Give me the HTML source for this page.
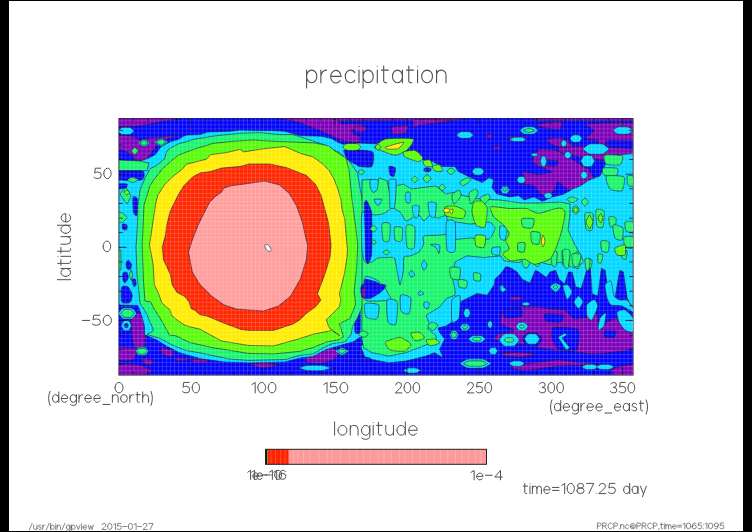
<!DOCTYPE html>
<html><head><meta charset="utf-8">
<style>
html,body{margin:0;padding:0;background:#000;}
body{width:752px;height:532px;overflow:hidden;position:relative;}
#pg{position:absolute;left:9px;top:1px;width:734px;height:530px;background:#fff;}
svg{position:absolute;left:0;top:0;}
.tx path{vector-effect:non-scaling-stroke;}
</style></head><body>
<div id="pg"></div>
<svg width="752" height="532" viewBox="0 0 752 532">
<defs>
<clipPath id="pc"><rect x="119" y="118" width="514" height="257"/></clipPath>
<pattern id="grid" x="119" y="118" width="4.05" height="4.03" patternUnits="userSpaceOnUse">
<rect x="2.4" y="0" width="0.9" height="4.03" fill="#fff" fill-opacity="0.17"/>
<rect x="0" y="2.4" width="4.05" height="0.9" fill="#fff" fill-opacity="0.17"/>
</pattern>
</defs>
<g clip-path="url(#pc)">
<rect x="119" y="118" width="514" height="257" fill="#0204f8"/>
<path d="M119.0,118.0C124.2,117.3 178.2,117.8 182.0,118.0C185.8,118.2 167.7,120.5 165.0,121.0C162.3,121.5 152.2,123.6 150.0,124.0C147.8,124.4 141.3,125.8 138.7,126.0C136.1,126.2 120.6,127.2 119.0,126.5C117.4,125.8 113.8,118.7 119.0,118.0Z" fill="#7c00b8" stroke="#10103a" stroke-opacity="0.75" stroke-width="0.8"/>
<path d="M119.0,135.8C120.1,134.6 130.4,136.1 132.2,136.4C134.0,136.7 138.6,139.6 140.1,139.7C141.6,139.8 148.7,137.9 150.6,137.7C152.5,137.5 160.3,137.3 162.4,137.1C164.5,136.9 174.4,135.3 175.6,135.1C176.8,134.9 178.4,133.7 177.0,134.4C175.6,135.1 160.6,142.2 158.5,143.7C156.4,145.2 153.0,150.8 151.9,152.2C150.8,153.6 146.7,159.4 145.3,160.1C143.9,160.8 135.8,160.4 134.8,160.1C133.8,159.8 134.6,157.1 133.5,156.2C132.4,155.3 122.8,150.0 121.6,149.6C120.4,149.2 119.2,152.1 119.0,150.9C118.8,149.8 117.9,137.0 119.0,135.8Z" fill="#7c00b8" stroke="#10103a" stroke-opacity="0.75" stroke-width="0.8"/>
<path d="M283.2,118.0C289.9,117.6 371.9,117.8 380.0,118.0C388.1,118.2 383.3,120.0 380.0,120.2C376.7,120.4 343.4,120.6 340.2,120.9C337.0,121.2 340.0,123.7 341.7,123.9C343.4,124.2 358.6,123.4 360.7,123.9C362.8,124.4 367.2,129.2 366.5,129.7C365.8,130.2 353.0,129.3 351.9,129.7C350.8,130.1 352.7,133.5 353.4,134.1C354.1,134.7 360.2,136.3 360.7,137.0C361.2,137.7 359.9,141.7 359.2,142.1C358.5,142.5 353.5,142.3 351.9,142.1C350.3,141.9 342.1,140.7 340.2,140.0C338.2,139.3 330.7,135.1 328.5,134.1C326.3,133.1 316.3,129.2 313.9,128.2C311.5,127.2 301.9,123.2 299.3,122.4C296.7,121.6 276.5,118.4 283.2,118.0Z" fill="#7c00b8" stroke="#10103a" stroke-opacity="0.75" stroke-width="0.8"/>
<path d="M340.0,118.0C349.6,117.8 445.4,117.8 455.0,118.0C464.6,118.2 464.6,119.8 455.0,120.0C445.4,120.2 349.6,120.7 340.0,120.5C330.4,120.3 330.4,118.2 340.0,118.0Z" fill="#7c00b8" stroke="#10103a" stroke-opacity="0.75" stroke-width="0.8"/>
<path d="M540.0,118.0C547.8,117.8 625.2,117.8 633.0,118.0C640.8,118.2 640.8,120.3 633.0,120.5C625.2,120.7 547.8,120.6 540.0,120.4C532.2,120.2 532.2,118.2 540.0,118.0Z" fill="#7c00b8" stroke="#10103a" stroke-opacity="0.75" stroke-width="0.8"/>
<path d="M414.8,119.6C417.9,119.0 451.6,120.5 452.0,121.0C452.4,121.5 423.1,124.4 420.0,125.0C416.9,125.6 415.2,128.2 414.8,127.7C414.4,127.2 411.7,120.2 414.8,119.6Z" fill="#7c00b8" stroke="#10103a" stroke-opacity="0.75" stroke-width="0.8"/>
<path d="M392.0,127.0C393.2,126.3 406.9,125.5 408.0,126.0C409.1,126.5 406.2,132.3 405.0,133.0C403.8,133.7 394.1,134.5 393.0,134.0C391.9,133.5 390.8,127.7 392.0,127.0Z" fill="#7c00b8" stroke="#10103a" stroke-opacity="0.75" stroke-width="0.8"/>
<path d="M355.0,126.0C355.9,125.6 365.6,126.5 366.3,127.0C367.1,127.5 364.9,131.3 364.0,131.7C363.1,132.1 355.8,132.2 355.0,131.7C354.2,131.2 354.1,126.4 355.0,126.0Z" fill="#7c00b8" stroke="#10103a" stroke-opacity="0.75" stroke-width="0.8"/>
<path d="M587.0,124.0C590.2,123.4 629.2,121.6 633.0,123.0C636.8,124.4 635.1,138.9 633.0,140.3C630.9,141.7 609.9,139.8 607.6,140.3C605.3,140.8 605.8,145.5 605.0,146.0C604.2,146.5 598.6,146.5 598.0,146.0C597.4,145.5 599.0,140.9 598.0,140.3C597.0,139.7 586.3,139.2 586.0,138.4C585.7,137.6 593.9,131.8 594.0,130.6C594.1,129.4 583.8,124.6 587.0,124.0Z" fill="#7c00b8" stroke="#10103a" stroke-opacity="0.75" stroke-width="0.8"/>
<path d="M541.0,149.1C542.9,148.8 554.1,149.8 556.5,150.5C558.9,151.2 567.2,156.4 569.2,157.6C571.2,158.8 578.9,163.5 580.5,164.6C582.1,165.7 587.8,169.0 589.0,170.3C590.2,171.6 594.8,178.9 594.6,180.1C594.4,181.3 587.6,183.5 586.2,184.4C584.8,185.3 579.4,191.1 577.7,191.4C576.1,191.8 568.0,189.4 566.4,188.6C564.8,187.8 558.9,181.5 558.0,181.5C557.1,181.5 555.8,187.4 555.1,188.6C554.4,189.8 550.7,195.1 549.5,195.6C548.3,196.1 542.3,195.0 541.0,194.2C539.7,193.4 535.9,186.7 534.0,185.8C532.1,184.9 519.3,183.7 518.5,183.0C517.7,182.3 523.8,178.2 524.1,177.3C524.5,176.4 521.5,171.9 522.7,171.7C523.9,171.5 535.7,174.5 538.2,174.5C540.7,174.5 552.3,172.4 552.3,171.7C552.3,171.0 539.8,166.8 538.2,166.0C536.6,165.2 533.0,162.7 532.6,161.8C532.2,160.9 533.3,155.8 534.0,154.7C534.7,153.6 539.1,149.4 541.0,149.1Z" fill="#7c00b8" stroke="#10103a" stroke-opacity="0.75" stroke-width="0.8"/>
<path d="M560.0,147.0C562.5,146.5 583.9,146.3 590.0,146.5C596.1,146.7 629.4,147.9 633.0,149.0C636.6,150.1 635.8,159.1 633.0,160.0C630.2,160.9 604.8,160.3 600.0,160.0C595.2,159.7 578.3,156.7 575.0,156.0C571.7,155.3 561.2,152.8 560.0,152.0C558.8,151.2 557.5,147.5 560.0,147.0Z" fill="#7c00b8" stroke="#10103a" stroke-opacity="0.75" stroke-width="0.8"/>
<path d="M547.0,139.0C547.8,138.5 558.4,137.3 560.0,137.4C561.6,137.5 565.8,139.5 566.8,140.3C567.8,141.1 573.2,146.4 572.6,147.0C572.0,147.6 561.9,147.3 560.0,147.0C558.1,146.7 551.1,144.2 550.0,143.5C548.9,142.8 546.2,139.5 547.0,139.0Z" fill="#7c00b8" stroke="#10103a" stroke-opacity="0.75" stroke-width="0.8"/>
<path d="M536.0,125.0C536.2,124.5 545.8,122.8 548.0,122.5C550.2,122.2 561.0,121.4 562.0,122.0C563.0,122.6 561.4,128.7 560.0,129.2C558.6,129.7 547.0,128.3 545.0,128.0C543.0,127.7 535.8,125.5 536.0,125.0Z" fill="#7c00b8" stroke="#10103a" stroke-opacity="0.75" stroke-width="0.8"/>
<path d="M486.3,135.0C486.6,134.6 492.5,133.7 492.7,134.0C492.9,134.3 489.5,138.7 489.0,138.8C488.5,138.9 486.0,135.4 486.3,135.0Z" fill="#7c00b8" stroke="#10103a" stroke-opacity="0.75" stroke-width="0.8"/>
<path d="M492.7,147.0C493.4,146.8 501.9,146.3 502.3,146.5C502.7,146.7 498.7,149.0 498.0,149.2C497.3,149.4 494.4,149.2 494.0,149.0C493.6,148.8 492.0,147.2 492.7,147.0Z" fill="#7c00b8" stroke="#10103a" stroke-opacity="0.75" stroke-width="0.8"/>
<path d="M510.0,137.0C511.2,136.7 523.8,136.7 525.0,137.0C526.2,137.3 525.2,140.7 524.0,141.0C522.8,141.3 511.2,141.3 510.0,141.0C508.8,140.7 508.8,137.3 510.0,137.0Z" fill="#7c00b8" stroke="#10103a" stroke-opacity="0.75" stroke-width="0.8"/>
<path d="M131.0,316.6C132.1,314.4 144.5,310.6 145.6,313.4C146.7,316.2 145.2,346.9 144.5,350.3C143.8,353.7 138.3,354.7 137.3,353.8C136.3,352.9 133.1,343.1 132.6,340.0C132.1,336.9 129.9,318.8 131.0,316.6Z" fill="#7c00b8" stroke="#10103a" stroke-opacity="0.75" stroke-width="0.8"/>
<path d="M119.0,347.6C120.5,346.7 136.1,348.0 137.3,349.0C138.5,350.0 134.5,359.1 133.0,360.0C131.5,360.9 120.2,361.0 119.0,360.0C117.8,359.0 117.5,348.5 119.0,347.6Z" fill="#7c00b8" stroke="#10103a" stroke-opacity="0.75" stroke-width="0.8"/>
<path d="M119.0,364.2C120.8,363.4 137.3,364.4 140.0,365.0C142.7,365.6 151.4,370.2 151.8,371.0C152.2,371.8 147.7,374.2 145.0,374.5C142.3,374.8 121.2,375.4 119.0,374.5C116.8,373.6 117.2,365.0 119.0,364.2Z" fill="#7c00b8" stroke="#10103a" stroke-opacity="0.75" stroke-width="0.8"/>
<path d="M143.2,358.2C144.0,358.0 153.1,360.4 153.7,361.0C154.3,361.6 150.8,364.8 150.0,365.0C149.2,365.2 144.1,363.6 143.5,363.0C142.9,362.4 142.3,358.4 143.2,358.2Z" fill="#7c00b8" stroke="#10103a" stroke-opacity="0.75" stroke-width="0.8"/>
<path d="M161.6,347.6C162.5,347.4 172.5,350.2 173.4,351.0C174.3,351.8 172.9,356.6 172.0,356.8C171.1,357.1 162.9,354.8 162.0,354.0C161.1,353.2 160.7,347.9 161.6,347.6Z" fill="#7c00b8" stroke="#10103a" stroke-opacity="0.75" stroke-width="0.8"/>
<path d="M176.0,358.2C177.0,358.1 187.1,358.8 187.9,359.0C188.7,359.2 187.0,360.7 186.0,360.8C185.0,360.9 176.8,361.0 176.0,360.8C175.2,360.6 175.0,358.3 176.0,358.2Z" fill="#7c00b8" stroke="#10103a" stroke-opacity="0.75" stroke-width="0.8"/>
<path d="M306.6,357.0C307.7,356.0 318.0,350.8 320.0,350.0C322.0,349.2 329.4,347.2 331.0,347.4C332.6,347.6 339.3,350.9 339.5,352.0C339.7,353.1 334.6,359.1 333.0,360.0C331.4,360.9 322.2,363.0 320.0,363.2C317.8,363.4 307.7,362.5 306.6,362.0C305.5,361.5 305.5,358.0 306.6,357.0Z" fill="#7c00b8" stroke="#10103a" stroke-opacity="0.75" stroke-width="0.8"/>
<path d="M250.5,364.0C250.8,363.6 262.7,362.8 265.0,362.9C267.3,363.0 278.2,364.6 278.0,365.0C277.8,365.4 264.3,368.1 262.0,368.0C259.7,367.9 250.2,364.4 250.5,364.0Z" fill="#7c00b8" stroke="#10103a" stroke-opacity="0.75" stroke-width="0.8"/>
<path d="M190.0,360.0C190.8,359.7 203.5,358.8 205.0,359.0C206.5,359.2 208.8,361.7 208.0,362.0C207.2,362.3 196.5,363.2 195.0,363.0C193.5,362.8 189.2,360.3 190.0,360.0Z" fill="#7c00b8" stroke="#10103a" stroke-opacity="0.75" stroke-width="0.8"/>
<path d="M504.1,310.4C505.8,309.4 518.2,307.3 521.0,307.0C523.8,306.7 535.6,306.9 538.0,307.0C540.4,307.1 547.7,308.4 550.0,308.7C552.3,309.0 563.4,309.6 565.4,310.4C567.4,311.2 571.8,318.2 573.8,318.8C575.8,319.4 587.0,317.5 589.0,317.1C591.0,316.7 596.6,313.1 597.5,313.8C598.4,314.5 597.8,325.2 599.2,325.6C600.6,326.0 611.6,319.1 614.4,318.8C617.2,318.5 631.5,319.8 633.0,322.2C634.5,324.6 634.5,345.2 633.0,347.7C631.5,350.2 618.2,351.5 615.0,352.0C611.8,352.5 598.3,354.0 595.0,354.0C591.7,354.0 577.9,352.3 575.0,352.0C572.1,351.7 562.5,350.9 560.0,350.6C557.5,350.4 547.1,349.3 545.0,349.0C542.9,348.7 537.0,347.4 535.0,347.0C533.0,346.6 523.4,344.6 521.0,344.2C518.6,343.8 508.1,342.9 505.8,342.5C503.6,342.1 494.6,339.8 494.0,339.1C493.4,338.4 497.3,334.8 499.0,334.1C500.7,333.4 514.1,331.6 514.3,330.7C514.4,329.8 501.9,324.9 500.8,323.9C499.7,322.9 500.5,319.9 500.8,318.8C501.1,317.7 502.4,311.4 504.1,310.4Z" fill="#7c00b8" stroke="#10103a" stroke-opacity="0.75" stroke-width="0.8"/>
<path d="M510.9,296.8C511.7,296.6 520.2,296.7 521.0,297.0C521.8,297.3 520.8,299.9 520.0,300.2C519.2,300.4 511.8,300.3 511.0,300.0C510.2,299.7 510.1,297.1 510.9,296.8Z" fill="#7c00b8" stroke="#10103a" stroke-opacity="0.75" stroke-width="0.8"/>
<path d="M504.0,352.7C506.6,352.5 532.4,353.7 534.6,354.0C536.8,354.3 532.5,355.8 530.0,356.0C527.5,356.2 506.2,356.3 504.0,356.0C501.8,355.7 501.4,352.9 504.0,352.7Z" fill="#7c00b8" stroke="#10103a" stroke-opacity="0.75" stroke-width="0.8"/>
<path d="M512.3,366.5C514.0,365.9 531.0,363.2 534.9,362.6C538.8,362.1 554.9,359.9 558.8,359.9C562.7,359.9 578.4,362.3 581.4,362.6C584.4,362.9 593.0,363.6 595.0,363.9C597.0,364.2 605.0,365.7 605.0,366.0C605.0,366.3 597.0,368.0 595.0,367.9C593.0,367.8 584.8,365.3 581.4,365.2C578.0,365.1 559.2,366.1 554.8,366.5C550.4,366.9 531.5,370.3 528.2,370.5C524.9,370.7 516.3,369.5 515.0,369.2C513.7,368.9 510.6,367.1 512.3,366.5Z" fill="#7c00b8" stroke="#10103a" stroke-opacity="0.75" stroke-width="0.8"/>
<path d="M504.3,353.3C505.5,353.0 517.4,352.1 520.0,352.2C522.6,352.3 534.8,353.6 535.0,354.0C535.2,354.4 524.4,356.8 522.0,357.0C519.6,357.2 507.5,356.3 506.0,356.0C504.5,355.7 503.1,353.6 504.3,353.3Z" fill="#7c00b8" stroke="#10103a" stroke-opacity="0.75" stroke-width="0.8"/>
<path d="M612.0,369.0C613.5,368.1 631.2,363.5 633.0,364.0C634.8,364.5 634.5,374.1 633.0,375.0C631.5,375.9 616.8,375.5 615.0,375.0C613.2,374.5 610.5,369.9 612.0,369.0Z" fill="#7c00b8" stroke="#10103a" stroke-opacity="0.75" stroke-width="0.8"/>
<path d="M504.1,310.4C505.4,309.6 519.5,307.5 521.0,308.0C522.5,308.5 523.3,315.2 522.0,316.0C520.7,316.8 506.5,318.5 505.0,318.0C503.5,317.5 502.8,311.2 504.1,310.4Z" fill="#0204f8" stroke="#10103a" stroke-opacity="0.75" stroke-width="0.8"/>
<path d="M545.0,313.8C546.5,313.3 562.5,314.3 563.7,315.0C565.0,315.7 561.5,321.7 560.0,322.2C558.5,322.7 547.2,321.7 546.0,321.0C544.8,320.3 543.5,314.3 545.0,313.8Z" fill="#0204f8" stroke="#10103a" stroke-opacity="0.75" stroke-width="0.8"/>
<path d="M553.5,327.3C555.8,326.6 577.1,328.0 579.0,330.0C580.9,332.0 577.8,349.4 576.0,351.0C574.2,352.6 560.0,350.1 558.0,349.0C556.0,347.9 552.4,339.8 552.0,338.0C551.6,336.2 551.2,328.0 553.5,327.3Z" fill="#0204f8" stroke="#10103a" stroke-opacity="0.75" stroke-width="0.8"/>
<path d="M604.3,330.7C605.2,330.2 615.2,330.4 616.0,331.0C616.8,331.6 614.9,337.0 614.0,337.5C613.1,338.0 605.8,337.6 605.0,337.0C604.2,336.4 603.4,331.2 604.3,330.7Z" fill="#0204f8" stroke="#10103a" stroke-opacity="0.75" stroke-width="0.8"/>
<path d="M542.4,160.4C543.6,160.0 556.9,160.5 558.0,161.0C559.1,161.5 557.2,165.6 556.0,166.0C554.8,166.4 544.1,166.0 543.0,165.5C541.9,165.0 541.1,160.8 542.4,160.4Z" fill="#0204f8" stroke="#10103a" stroke-opacity="0.75" stroke-width="0.8"/>
<path d="M522.0,339.0C522.0,338.1 526.0,333.4 527.0,333.0C528.0,332.6 536.0,332.6 537.0,333.0C538.0,333.4 542.0,338.1 542.0,339.0C542.0,339.9 538.0,346.5 537.0,347.0C536.0,347.5 528.0,347.5 527.0,347.0C526.0,346.5 522.0,339.9 522.0,339.0Z" fill="#0204f8" stroke="#10103a" stroke-opacity="0.75" stroke-width="0.8"/>
<path d="M119.0,160.0 L135.0,163.0 L150.0,157.6 L155.6,154.2 L161.3,146.3 L170.3,141.8 L178.2,139.5 L183.8,136.1 L187.2,135.0 L200.0,134.6 L208.0,132.0 L230.0,131.3 L240.0,130.0 L259.8,130.6 L270.0,130.4 L284.6,131.2 L299.3,135.6 L321.2,136.3 L331.4,138.5 L337.3,142.1 L343.1,144.3 L358.2,143.0 L376.0,143.8 L385.7,139.8 L408.3,139.0 L413.2,143.8 L406.7,150.3 L419.6,152.7 L422.9,160.0 L432.5,161.6 L442.2,166.5 L455.0,166.5 L458.0,171.3 L471.0,177.8 L482.3,182.6 L488.8,177.8 L493.6,179.4 L492.0,187.5 L496.8,193.9 L510.0,197.0 L518.5,195.6 L524.1,199.9 L534.0,197.0 L542.4,201.3 L552.3,197.0 L563.6,194.2 L573.5,188.6 L580.5,185.8 L589.0,180.1 L600.0,175.9 L607.9,158.4 L616.0,155.2 L633.0,153.6 L633.0,310.6 L627.1,297.7 L623.4,272.0 L619.8,270.2 L614.3,301.4 L608.8,295.9 L605.1,270.2 L601.4,268.3 L597.8,295.9 L592.2,294.0 L590.4,268.3 L586.7,270.2 L581.2,288.5 L575.7,286.7 L572.1,272.0 L568.4,272.0 L564.7,283.9 L559.2,279.4 L555.6,270.2 L550.0,272.0 L546.4,277.5 L539.0,272.0 L535.4,270.2 L529.9,283.0 L522.5,279.4 L517.0,272.0 L511.5,268.3 L506.0,266.5 L500.5,273.9 L495.0,279.0 L494.0,285.0 L487.2,295.2 L477.0,293.5 L467.0,298.5 L460.2,301.9 L456.0,310.0 L452.0,322.0 L446.0,326.0 L438.0,328.0 L439.6,332.4 L444.7,339.1 L439.6,349.3 L443.0,357.8 L434.5,352.7 L426.0,356.1 L405.8,361.1 L388.8,362.8 L372.0,359.5 L365.0,357.0 L360.0,345.0 L356.0,341.0 L340.0,345.5 L325.0,350.0 L313.0,356.5 L300.0,358.0 L285.0,362.0 L249.0,362.8 L224.1,362.0 L200.0,358.5 L180.0,352.9 L166.8,346.3 L156.3,339.7 L144.5,334.5 L144.5,326.6 L141.8,316.1 L137.9,305.5 L119.0,305.0Z" fill="#00d8ff" stroke="#10103a" stroke-opacity="0.75" stroke-width="0.8"/>
<path d="M118.0,131.0C118.0,130.5 121.2,127.7 122.0,127.5C122.8,127.3 129.2,127.3 130.0,127.5C130.8,127.7 134.0,130.5 134.0,131.0C134.0,131.5 130.8,134.3 130.0,134.5C129.2,134.7 122.8,134.7 122.0,134.5C121.2,134.3 118.0,131.5 118.0,131.0Z" fill="#00d8ff" stroke="#10103a" stroke-opacity="0.75" stroke-width="0.8"/>
<path d="M456.5,135.0C456.5,134.6 459.9,132.0 460.8,131.8C461.6,131.6 468.4,131.6 469.2,131.8C470.1,132.0 473.5,134.6 473.5,135.0C473.5,135.4 470.1,138.0 469.2,138.2C468.4,138.4 461.6,138.4 460.8,138.2C459.9,138.0 456.5,135.4 456.5,135.0Z" fill="#00d8ff" stroke="#10103a" stroke-opacity="0.75" stroke-width="0.8"/>
<path d="M510.0,139.4C510.0,139.1 513.2,137.3 514.0,137.2C514.8,137.1 521.2,137.1 522.0,137.2C522.8,137.3 526.0,139.1 526.0,139.4C526.0,139.7 522.8,141.5 522.0,141.6C521.2,141.7 514.8,141.7 514.0,141.6C513.2,141.5 510.0,139.7 510.0,139.4Z" fill="#00d8ff" stroke="#10103a" stroke-opacity="0.75" stroke-width="0.8"/>
<path d="M520.0,130.5C520.0,130.0 523.6,127.1 524.5,126.9C525.4,126.7 532.6,126.7 533.5,126.9C534.4,127.1 538.0,130.0 538.0,130.5C538.0,131.0 534.4,133.9 533.5,134.1C532.6,134.3 525.4,134.3 524.5,134.1C523.6,133.9 520.0,131.0 520.0,130.5Z" fill="#00d8ff" stroke="#10103a" stroke-opacity="0.75" stroke-width="0.8"/>
<path d="M570.0,138.6C570.0,138.1 572.4,135.2 573.0,135.0C573.6,134.8 578.4,134.8 579.0,135.0C579.6,135.2 582.0,138.1 582.0,138.6C582.0,139.1 579.6,142.0 579.0,142.2C578.4,142.4 573.6,142.4 573.0,142.2C572.4,142.0 570.0,139.1 570.0,138.6Z" fill="#00d8ff" stroke="#10103a" stroke-opacity="0.75" stroke-width="0.8"/>
<path d="M583.0,149.0C583.0,148.3 588.2,144.3 589.5,144.0C590.8,143.7 601.2,143.7 602.5,144.0C603.8,144.3 609.0,148.3 609.0,149.0C609.0,149.7 603.8,153.7 602.5,154.0C601.2,154.3 590.8,154.3 589.5,154.0C588.2,153.7 583.0,149.7 583.0,149.0Z" fill="#00d8ff" stroke="#10103a" stroke-opacity="0.75" stroke-width="0.8"/>
<path d="M613.0,130.5C613.0,130.0 617.0,127.1 618.0,126.9C619.0,126.7 627.0,126.7 628.0,126.9C629.0,127.1 633.0,130.0 633.0,130.5C633.0,131.0 629.0,133.9 628.0,134.1C627.0,134.3 619.0,134.3 618.0,134.1C617.0,133.9 613.0,131.0 613.0,130.5Z" fill="#00d8ff" stroke="#10103a" stroke-opacity="0.75" stroke-width="0.8"/>
<path d="M560.8,143.5C560.8,143.1 562.0,140.7 562.3,140.5C562.6,140.3 565.0,140.3 565.3,140.5C565.6,140.7 566.8,143.1 566.8,143.5C566.8,143.9 565.6,146.3 565.3,146.5C565.0,146.7 562.6,146.7 562.3,146.5C562.0,146.3 560.8,143.9 560.8,143.5Z" fill="#00d8ff" stroke="#10103a" stroke-opacity="0.75" stroke-width="0.8"/>
<path d="M531.0,154.7C531.0,154.5 532.4,153.3 532.8,153.2C533.1,153.1 535.9,153.1 536.2,153.2C536.6,153.3 538.0,154.5 538.0,154.7C538.0,154.9 536.6,156.1 536.2,156.2C535.9,156.3 533.1,156.3 532.8,156.2C532.4,156.1 531.0,154.9 531.0,154.7Z" fill="#00d8ff" stroke="#10103a" stroke-opacity="0.75" stroke-width="0.8"/>
<path d="M540.3,161.2C540.3,160.5 541.6,156.5 541.9,156.2C542.2,155.9 544.8,155.9 545.1,156.2C545.4,156.5 546.7,160.5 546.7,161.2C546.7,161.9 545.4,165.9 545.1,166.2C544.8,166.5 542.2,166.5 541.9,166.2C541.6,165.9 540.3,161.9 540.3,161.2Z" fill="#00d8ff" stroke="#10103a" stroke-opacity="0.75" stroke-width="0.8"/>
<path d="M564.3,155.1C564.3,154.7 565.7,152.1 566.0,151.9C566.4,151.7 569.2,151.7 569.5,151.9C569.9,152.1 571.3,154.7 571.3,155.1C571.3,155.5 569.9,158.1 569.5,158.3C569.2,158.5 566.4,158.5 566.0,158.3C565.7,158.1 564.3,155.5 564.3,155.1Z" fill="#00d8ff" stroke="#10103a" stroke-opacity="0.75" stroke-width="0.8"/>
<path d="M580.5,175.2C580.5,174.7 581.9,171.9 582.2,171.7C582.6,171.5 585.4,171.5 585.8,171.7C586.1,171.9 587.5,174.7 587.5,175.2C587.5,175.7 586.1,178.5 585.8,178.7C585.4,178.9 582.6,178.9 582.2,178.7C581.9,178.5 580.5,175.7 580.5,175.2Z" fill="#00d8ff" stroke="#10103a" stroke-opacity="0.75" stroke-width="0.8"/>
<path d="M580.7,161.0C580.7,160.3 583.5,155.9 584.2,155.5C584.9,155.1 590.5,155.1 591.2,155.5C591.9,155.9 594.7,160.3 594.7,161.0C594.7,161.7 591.9,166.1 591.2,166.5C590.5,166.9 584.9,166.9 584.2,166.5C583.5,166.1 580.7,161.7 580.7,161.0Z" fill="#00d8ff" stroke="#10103a" stroke-opacity="0.75" stroke-width="0.8"/>
<path d="M516.9,179.8C516.9,179.4 518.6,176.8 519.1,176.6C519.5,176.4 522.9,176.4 523.4,176.6C523.8,176.8 525.5,179.4 525.5,179.8C525.5,180.2 523.8,182.8 523.4,183.0C522.9,183.2 519.5,183.2 519.1,183.0C518.6,182.8 516.9,180.2 516.9,179.8Z" fill="#00d8ff" stroke="#10103a" stroke-opacity="0.75" stroke-width="0.8"/>
<path d="M472.0,171.5C472.0,171.0 474.4,168.2 475.0,168.0C475.6,167.8 480.4,167.8 481.0,168.0C481.6,168.2 484.0,171.0 484.0,171.5C484.0,172.0 481.6,174.8 481.0,175.0C480.4,175.2 475.6,175.2 475.0,175.0C474.4,174.8 472.0,172.0 472.0,171.5Z" fill="#00d8ff" stroke="#10103a" stroke-opacity="0.75" stroke-width="0.8"/>
<path d="M543.9,195.6C543.9,195.2 545.6,193.0 546.0,192.8C546.4,192.6 549.8,192.6 550.2,192.8C550.6,193.0 552.3,195.2 552.3,195.6C552.3,196.0 550.6,198.2 550.2,198.4C549.8,198.6 546.4,198.6 546.0,198.4C545.6,198.2 543.9,196.0 543.9,195.6Z" fill="#00d8ff" stroke="#10103a" stroke-opacity="0.75" stroke-width="0.8"/>
<path d="M500.5,190.0C500.5,189.5 502.3,186.7 502.8,186.5C503.2,186.3 506.8,186.3 507.2,186.5C507.7,186.7 509.5,189.5 509.5,190.0C509.5,190.5 507.7,193.3 507.2,193.5C506.8,193.7 503.2,193.7 502.8,193.5C502.3,193.3 500.5,190.5 500.5,190.0Z" fill="#00d8ff" stroke="#10103a" stroke-opacity="0.75" stroke-width="0.8"/>
<path d="M423.5,170.0C423.5,169.8 424.9,168.3 425.2,168.2C425.6,168.1 428.4,168.1 428.8,168.2C429.1,168.3 430.5,169.8 430.5,170.0C430.5,170.2 429.1,171.7 428.8,171.8C428.4,171.9 425.6,171.9 425.2,171.8C424.9,171.7 423.5,170.2 423.5,170.0Z" fill="#00d8ff" stroke="#10103a" stroke-opacity="0.75" stroke-width="0.8"/>
<path d="M463.5,313.0C463.5,312.4 464.9,309.1 465.2,308.8C465.5,308.5 468.3,308.5 468.6,308.8C468.9,309.1 470.3,312.4 470.3,313.0C470.3,313.6 468.9,316.9 468.6,317.2C468.3,317.5 465.5,317.5 465.2,317.2C464.9,316.9 463.5,313.6 463.5,313.0Z" fill="#00d8ff" stroke="#10103a" stroke-opacity="0.75" stroke-width="0.8"/>
<path d="M460.0,327.3C460.0,326.9 462.0,324.2 462.5,324.0C463.0,323.8 467.0,323.8 467.5,324.0C468.0,324.2 470.0,326.9 470.0,327.3C470.0,327.7 468.0,330.4 467.5,330.6C467.0,330.8 463.0,330.8 462.5,330.6C462.0,330.4 460.0,327.7 460.0,327.3Z" fill="#00d8ff" stroke="#10103a" stroke-opacity="0.75" stroke-width="0.8"/>
<path d="M449.8,335.0C449.8,334.4 451.5,331.1 451.9,330.8C452.3,330.5 455.7,330.5 456.1,330.8C456.5,331.1 458.2,334.4 458.2,335.0C458.2,335.6 456.5,338.9 456.1,339.2C455.7,339.5 452.3,339.5 451.9,339.2C451.5,338.9 449.8,335.6 449.8,335.0Z" fill="#00d8ff" stroke="#10103a" stroke-opacity="0.75" stroke-width="0.8"/>
<path d="M468.5,339.1C468.5,338.6 471.9,335.9 472.8,335.7C473.6,335.5 480.4,335.5 481.2,335.7C482.1,335.9 485.5,338.6 485.5,339.1C485.5,339.6 482.1,342.3 481.2,342.5C480.4,342.7 473.6,342.7 472.8,342.5C471.9,342.3 468.5,339.6 468.5,339.1Z" fill="#00d8ff" stroke="#10103a" stroke-opacity="0.75" stroke-width="0.8"/>
<path d="M488.9,351.0C488.9,350.5 490.6,347.8 491.1,347.6C491.5,347.4 494.9,347.4 495.3,347.6C495.8,347.8 497.5,350.5 497.5,351.0C497.5,351.5 495.8,354.2 495.3,354.4C494.9,354.6 491.5,354.6 491.1,354.4C490.6,354.2 488.9,351.5 488.9,351.0Z" fill="#00d8ff" stroke="#10103a" stroke-opacity="0.75" stroke-width="0.8"/>
<path d="M509.2,363.6C509.2,363.3 512.2,361.2 513.0,361.0C513.8,360.8 519.8,360.8 520.6,361.0C521.4,361.2 524.4,363.3 524.4,363.6C524.4,363.9 521.4,366.0 520.6,366.2C519.8,366.4 513.8,366.4 513.0,366.2C512.2,366.0 509.2,363.9 509.2,363.6Z" fill="#00d8ff" stroke="#10103a" stroke-opacity="0.75" stroke-width="0.8"/>
<path d="M515.9,326.5C515.9,326.0 518.3,322.8 518.9,322.5C519.5,322.2 524.3,322.2 524.9,322.5C525.5,322.8 527.9,326.0 527.9,326.5C527.9,327.0 525.5,330.2 524.9,330.5C524.3,330.8 519.5,330.8 518.9,330.5C518.3,330.2 515.9,327.0 515.9,326.5Z" fill="#00d8ff" stroke="#10103a" stroke-opacity="0.75" stroke-width="0.8"/>
<path d="M499.2,340.0C499.2,339.2 503.2,334.4 504.2,334.0C505.2,333.6 513.2,333.6 514.2,334.0C515.2,334.4 519.2,339.2 519.2,340.0C519.2,340.8 515.2,345.6 514.2,346.0C513.2,346.4 505.2,346.4 504.2,346.0C503.2,345.6 499.2,340.8 499.2,340.0Z" fill="#00d8ff" stroke="#10103a" stroke-opacity="0.75" stroke-width="0.8"/>
<path d="M524.4,339.0C524.4,338.3 527.4,334.3 528.2,334.0C529.0,333.7 535.0,333.7 535.8,334.0C536.6,334.3 539.6,338.3 539.6,339.0C539.6,339.7 536.6,343.7 535.8,344.0C535.0,344.3 529.0,344.3 528.2,344.0C527.4,343.7 524.4,339.7 524.4,339.0Z" fill="#00d8ff" stroke="#10103a" stroke-opacity="0.75" stroke-width="0.8"/>
<path d="M460.0,363.6C460.0,363.0 466.2,359.4 467.8,359.1C469.3,358.8 481.7,358.8 483.2,359.1C484.8,359.4 491.0,363.0 491.0,363.6C491.0,364.2 484.8,367.8 483.2,368.1C481.7,368.4 469.3,368.4 467.8,368.1C466.2,367.8 460.0,364.2 460.0,363.6Z" fill="#00d8ff" stroke="#10103a" stroke-opacity="0.75" stroke-width="0.8"/>
<path d="M582.0,367.0C582.0,366.7 585.2,364.6 586.0,364.4C586.8,364.2 593.2,364.2 594.0,364.4C594.8,364.6 598.0,366.7 598.0,367.0C598.0,367.3 594.8,369.4 594.0,369.6C593.2,369.8 586.8,369.8 586.0,369.6C585.2,369.4 582.0,367.3 582.0,367.0Z" fill="#00d8ff" stroke="#10103a" stroke-opacity="0.75" stroke-width="0.8"/>
<path d="M596.0,367.0C596.0,366.7 599.6,364.7 600.5,364.5C601.4,364.3 608.6,364.3 609.5,364.5C610.4,364.7 614.0,366.7 614.0,367.0C614.0,367.3 610.4,369.3 609.5,369.5C608.6,369.7 601.4,369.7 600.5,369.5C599.6,369.3 596.0,367.3 596.0,367.0Z" fill="#00d8ff" stroke="#10103a" stroke-opacity="0.75" stroke-width="0.8"/>
<path d="M403.5,370.5C403.5,370.2 406.9,368.2 407.8,368.0C408.6,367.8 415.4,367.8 416.2,368.0C417.1,368.2 420.5,370.2 420.5,370.5C420.5,370.8 417.1,372.8 416.2,373.0C415.4,373.2 408.6,373.2 407.8,373.0C406.9,372.8 403.5,370.8 403.5,370.5Z" fill="#00d8ff" stroke="#10103a" stroke-opacity="0.75" stroke-width="0.8"/>
<path d="M299.0,368.0C299.0,367.7 305.4,365.7 307.0,365.5C308.6,365.3 321.4,365.3 323.0,365.5C324.6,365.7 331.0,367.7 331.0,368.0C331.0,368.3 324.6,370.3 323.0,370.5C321.4,370.7 308.6,370.7 307.0,370.5C305.4,370.3 299.0,368.3 299.0,368.0Z" fill="#00d8ff" stroke="#10103a" stroke-opacity="0.75" stroke-width="0.8"/>
<path d="M522.0,304.0C522.0,303.8 523.6,302.5 524.0,302.4C524.4,302.3 527.6,302.3 528.0,302.4C528.4,302.5 530.0,303.8 530.0,304.0C530.0,304.2 528.4,305.5 528.0,305.6C527.6,305.7 524.4,305.7 524.0,305.6C523.6,305.5 522.0,304.2 522.0,304.0Z" fill="#00d8ff" stroke="#10103a" stroke-opacity="0.75" stroke-width="0.8"/>
<path d="M499.5,288.5C499.5,288.1 500.5,285.7 500.8,285.5C501.0,285.3 503.0,285.3 503.2,285.5C503.5,285.7 504.5,288.1 504.5,288.5C504.5,288.9 503.5,291.3 503.2,291.5C503.0,291.7 501.0,291.7 500.8,291.5C500.5,291.3 499.5,288.9 499.5,288.5Z" fill="#00d8ff" stroke="#10103a" stroke-opacity="0.75" stroke-width="0.8"/>
<path d="M487.5,324.5C487.5,324.1 488.5,321.4 488.8,321.2C489.0,321.0 491.0,321.0 491.2,321.2C491.5,321.4 492.5,324.1 492.5,324.5C492.5,324.9 491.5,327.6 491.2,327.8C491.0,328.0 489.0,328.0 488.8,327.8C488.5,327.6 487.5,324.9 487.5,324.5Z" fill="#00d8ff" stroke="#10103a" stroke-opacity="0.75" stroke-width="0.8"/>
<path d="M500.5,289.5C500.5,288.9 502.4,286.7 503.0,286.7C503.6,286.7 506.0,288.9 506.0,289.5C506.0,290.1 503.6,292.2 503.0,292.2C502.4,292.2 500.5,290.1 500.5,289.5Z" fill="#00d8ff" stroke="#10103a" stroke-opacity="0.75" stroke-width="0.8"/>
<path d="M550.0,287.0C549.9,286.1 553.9,283.1 555.0,283.0C556.1,282.9 560.9,285.1 561.0,286.0C561.1,286.9 557.1,292.1 556.0,292.2C554.9,292.3 550.1,287.9 550.0,287.0Z" fill="#00d8ff" stroke="#10103a" stroke-opacity="0.75" stroke-width="0.8"/>
<path d="M563.0,286.0C563.1,284.6 567.1,284.4 568.0,285.0C568.9,285.6 572.1,290.6 572.0,292.0C571.9,293.4 567.9,300.1 567.0,299.5C566.1,298.9 562.9,287.4 563.0,286.0Z" fill="#00d8ff" stroke="#10103a" stroke-opacity="0.75" stroke-width="0.8"/>
<path d="M574.0,302.0C574.0,300.7 577.6,296.0 578.5,296.0C579.4,296.0 583.0,300.7 583.0,302.0C583.0,303.3 579.4,308.7 578.5,308.7C577.6,308.7 574.0,303.3 574.0,302.0Z" fill="#00d8ff" stroke="#10103a" stroke-opacity="0.75" stroke-width="0.8"/>
<path d="M586.7,305.0C587.4,303.4 592.9,299.4 594.0,299.5C595.1,299.6 598.0,303.9 597.8,306.0C597.6,308.1 593.1,319.0 592.0,320.0C590.9,321.0 587.5,317.5 587.0,316.0C586.5,314.5 586.0,306.6 586.7,305.0Z" fill="#00d8ff" stroke="#10103a" stroke-opacity="0.75" stroke-width="0.8"/>
<path d="M605.0,285.0C605.4,283.3 610.1,279.9 611.0,281.0C611.9,282.1 613.1,294.1 614.0,296.0C614.9,297.9 618.7,299.6 620.0,300.0C621.3,300.4 625.7,299.2 627.0,300.0C628.3,300.8 632.4,306.8 633.0,308.0C633.6,309.2 634.1,312.2 633.0,312.0C631.9,311.8 624.2,306.7 622.0,306.0C619.8,305.3 612.5,305.8 611.0,305.0C609.5,304.2 607.6,300.0 607.0,298.0C606.4,296.0 604.6,286.7 605.0,285.0Z" fill="#00d8ff" stroke="#10103a" stroke-opacity="0.75" stroke-width="0.8"/>
<path d="M617.0,312.0C617.6,310.8 623.4,309.4 625.0,310.0C626.6,310.6 632.2,315.8 633.0,318.0C633.8,320.2 633.8,330.8 633.0,332.0C632.2,333.2 626.4,331.0 625.0,330.0C623.6,329.0 619.8,323.8 619.0,322.0C618.2,320.2 616.4,313.2 617.0,312.0Z" fill="#00d8ff" stroke="#10103a" stroke-opacity="0.75" stroke-width="0.8"/>
<path d="M600.0,318.0C600.8,316.3 605.6,312.2 606.0,313.0C606.4,313.8 604.8,324.3 604.0,326.0C603.2,327.7 598.4,330.8 598.0,330.0C597.6,329.2 599.2,319.7 600.0,318.0Z" fill="#00d8ff" stroke="#10103a" stroke-opacity="0.75" stroke-width="0.8"/>
<path d="M553.0,287.0C553.0,286.9 555.3,285.0 555.5,285.0C555.7,285.0 558.0,286.9 558.0,287.0C558.0,287.1 555.7,289.5 555.5,289.5C555.3,289.5 553.0,287.1 553.0,287.0Z" fill="#18f56c" stroke="#10103a" stroke-opacity="0.75" stroke-width="0.8"/>
<path d="M523.0,130.5C523.0,130.2 528.2,128.5 529.0,128.5C529.8,128.5 535.0,130.2 535.0,130.5C535.0,130.8 529.8,132.5 529.0,132.5C528.2,132.5 523.0,130.8 523.0,130.5Z" fill="#18f56c" stroke="#10103a" stroke-opacity="0.75" stroke-width="0.8"/>
<path d="M463.5,363.6C463.5,363.3 468.3,361.2 469.5,361.0C470.7,360.8 480.3,360.8 481.5,361.0C482.7,361.2 487.5,363.3 487.5,363.6C487.5,363.9 482.7,366.0 481.5,366.2C480.3,366.4 470.7,366.4 469.5,366.2C468.3,366.0 463.5,363.9 463.5,363.6Z" fill="#18f56c" stroke="#10103a" stroke-opacity="0.75" stroke-width="0.8"/>
<path d="M472.5,339.1C472.5,338.9 474.3,337.4 474.8,337.3C475.2,337.2 478.8,337.2 479.2,337.3C479.7,337.4 481.5,338.9 481.5,339.1C481.5,339.3 479.7,340.8 479.2,340.9C478.8,341.0 475.2,341.0 474.8,340.9C474.3,340.8 472.5,339.3 472.5,339.1Z" fill="#18f56c" stroke="#10103a" stroke-opacity="0.75" stroke-width="0.8"/>
<path d="M462.5,327.3C462.5,327.1 463.5,325.8 463.8,325.7C464.0,325.6 466.0,325.6 466.2,325.7C466.5,325.8 467.5,327.1 467.5,327.3C467.5,327.5 466.5,328.8 466.2,328.9C466.0,329.0 464.0,329.0 463.8,328.9C463.5,328.8 462.5,327.5 462.5,327.3Z" fill="#18f56c" stroke="#10103a" stroke-opacity="0.75" stroke-width="0.8"/>
<path d="M451.5,335.0C451.5,334.7 452.5,332.7 452.8,332.5C453.0,332.3 455.0,332.3 455.2,332.5C455.5,332.7 456.5,334.7 456.5,335.0C456.5,335.3 455.5,337.3 455.2,337.5C455.0,337.7 453.0,337.7 452.8,337.5C452.5,337.3 451.5,335.3 451.5,335.0Z" fill="#18f56c" stroke="#10103a" stroke-opacity="0.75" stroke-width="0.8"/>
<path d="M504.2,340.0C504.2,339.7 506.2,337.9 506.7,337.8C507.2,337.7 511.2,337.7 511.7,337.8C512.2,337.9 514.2,339.7 514.2,340.0C514.2,340.3 512.2,342.1 511.7,342.2C511.2,342.3 507.2,342.3 506.7,342.2C506.2,342.1 504.2,340.3 504.2,340.0Z" fill="#18f56c" stroke="#10103a" stroke-opacity="0.75" stroke-width="0.8"/>
<path d="M519.4,326.5C519.4,326.3 520.4,325.1 520.6,325.0C520.9,324.9 522.9,324.9 523.1,325.0C523.4,325.1 524.4,326.3 524.4,326.5C524.4,326.7 523.4,327.9 523.1,328.0C522.9,328.1 520.9,328.1 520.6,328.0C520.4,327.9 519.4,326.7 519.4,326.5Z" fill="#18f56c" stroke="#10103a" stroke-opacity="0.75" stroke-width="0.8"/>
<path d="M502.0,189.5C502.0,189.3 504.6,188.0 505.0,188.0C505.4,188.0 508.0,189.3 508.0,189.5C508.0,189.7 505.4,191.0 505.0,191.0C504.6,191.0 502.0,189.7 502.0,189.5Z" fill="#18f56c" stroke="#10103a" stroke-opacity="0.75" stroke-width="0.8"/>
<path d="M558.0,337.0 L565.0,333.0 L567.0,335.0 L562.0,338.0 L570.0,348.0 L566.0,350.0Z" fill="#00d8ff" stroke="#10103a" stroke-opacity="0.75" stroke-width="0.8"/>
<path d="M119.0,170.6C121.4,169.7 140.4,170.1 142.7,171.0C145.0,171.9 144.4,178.9 142.0,179.8C139.6,180.7 121.3,180.7 119.0,179.8C116.7,178.9 116.6,171.5 119.0,170.6Z" fill="#0204f8" stroke="#10103a" stroke-opacity="0.75" stroke-width="0.8"/>
<path d="M355.0,150.3C356.8,149.5 371.1,150.4 372.8,152.0C374.5,153.6 373.5,165.1 372.0,166.5C370.5,167.9 359.7,166.7 358.0,166.0C356.3,165.3 355.3,161.6 355.0,160.0C354.7,158.4 353.2,151.1 355.0,150.3Z" fill="#0204f8" stroke="#10103a" stroke-opacity="0.75" stroke-width="0.8"/>
<path d="M389.0,166.5C389.5,165.8 394.9,167.0 395.4,168.0C395.9,169.0 394.5,175.5 394.0,176.2C393.5,176.9 390.5,176.0 390.0,175.0C389.5,174.0 388.5,167.2 389.0,166.5Z" fill="#0204f8" stroke="#10103a" stroke-opacity="0.75" stroke-width="0.8"/>
<path d="M424.5,168.0C425.1,167.8 430.4,168.3 431.0,168.6C431.6,168.9 430.6,171.1 430.0,171.3C429.4,171.5 425.6,171.3 425.0,171.0C424.4,170.7 423.9,168.2 424.5,168.0Z" fill="#0204f8" stroke="#10103a" stroke-opacity="0.75" stroke-width="0.8"/>
<path d="M126.2,262.0C126.5,261.2 128.5,260.2 129.0,260.5C129.5,260.8 131.4,264.1 131.5,265.0C131.6,265.9 130.5,269.4 130.0,269.7C129.5,270.0 126.9,268.8 126.5,268.0C126.1,267.2 126.0,262.8 126.2,262.0Z" fill="#0204f8" stroke="#10103a" stroke-opacity="0.75" stroke-width="0.8"/>
<path d="M123.0,273.0C123.4,272.2 126.5,271.9 127.0,272.4C127.5,272.9 128.4,276.9 128.2,278.0C128.0,279.1 125.5,282.8 125.0,283.0C124.5,283.2 123.2,281.0 123.0,280.0C122.8,279.0 122.6,273.8 123.0,273.0Z" fill="#0204f8" stroke="#10103a" stroke-opacity="0.75" stroke-width="0.8"/>
<path d="M132.2,280.0C132.3,279.2 134.6,278.6 135.0,279.0C135.4,279.4 136.2,283.2 136.1,284.0C136.0,284.8 134.4,287.4 134.0,287.0C133.6,286.6 132.1,280.8 132.2,280.0Z" fill="#0204f8" stroke="#10103a" stroke-opacity="0.75" stroke-width="0.8"/>
<path d="M121.6,287.0C122.2,285.5 126.9,286.0 128.0,286.8C129.1,287.6 132.0,293.4 132.2,295.0C132.4,296.6 131.1,301.9 130.0,302.6C128.9,303.3 122.4,303.6 121.6,302.0C120.8,300.4 121.0,288.5 121.6,287.0Z" fill="#0204f8" stroke="#10103a" stroke-opacity="0.75" stroke-width="0.8"/>
<path d="M133.0,197.0C133.4,195.6 137.1,197.2 137.5,199.0C137.9,200.8 137.4,213.6 137.0,215.0C136.6,216.4 133.9,214.8 133.5,213.0C133.1,211.2 132.6,198.4 133.0,197.0Z" fill="#0204f8" stroke="#10103a" stroke-opacity="0.75" stroke-width="0.8"/>
<path d="M122.5,224.0C123.0,223.6 126.6,224.4 127.0,225.0C127.4,225.6 127.0,229.6 126.5,230.0C126.0,230.4 122.9,229.6 122.5,229.0C122.1,228.4 122.0,224.4 122.5,224.0Z" fill="#0204f8" stroke="#10103a" stroke-opacity="0.75" stroke-width="0.8"/>
<path d="M119.0,184.0C119.8,183.6 126.3,183.6 127.0,184.0C127.7,184.4 126.8,187.6 126.0,188.0C125.2,188.4 119.7,188.4 119.0,188.0C118.3,187.6 118.2,184.4 119.0,184.0Z" fill="#0204f8" stroke="#10103a" stroke-opacity="0.75" stroke-width="0.8"/>
<path d="M355.0,310.0C355.5,307.8 359.5,307.8 360.0,310.0C360.5,312.2 360.5,329.8 360.0,332.0C359.5,334.2 355.5,334.2 355.0,332.0C354.5,329.8 354.5,312.2 355.0,310.0Z" fill="#0204f8" stroke="#10103a" stroke-opacity="0.75" stroke-width="0.8"/>
<path d="M357.0,339.0C359.6,336.9 368.7,335.4 370.0,335.5C371.3,335.6 370.8,339.1 370.0,340.0C369.2,340.9 363.2,343.4 362.0,345.0C360.8,346.6 357.2,354.7 358.0,356.0C358.8,357.3 368.8,357.4 370.0,358.0C371.2,358.6 372.0,361.6 370.0,362.0C368.0,362.4 352.6,362.5 350.0,362.0C347.4,361.5 343.3,359.3 344.0,357.0C344.7,354.7 354.4,341.1 357.0,339.0Z" fill="#0204f8" stroke="#10103a" stroke-opacity="0.75" stroke-width="0.8"/>
<path d="M344.0,150.0C345.2,149.2 357.4,150.5 360.0,152.0C362.6,153.5 370.0,163.6 370.0,165.0C370.0,166.4 362.2,166.5 360.0,166.0C357.8,165.5 349.6,161.6 348.0,160.0C346.4,158.4 342.8,150.8 344.0,150.0Z" fill="#0204f8" stroke="#10103a" stroke-opacity="0.75" stroke-width="0.8"/>
<path d="M150.0,168.8 L156.8,165.4 L164.7,158.7 L166.9,150.8 L172.6,146.8 L179.3,143.5 L186.1,141.8 L195.1,139.0 L210.0,136.7 L220.0,135.3 L240.0,133.3 L259.8,132.6 L279.8,134.6 L293.0,134.6 L310.0,140.0 L325.0,145.0 L340.3,153.2 L350.0,162.0 L357.4,172.9 L362.0,199.0 L364.5,230.0 L365.0,247.0 L363.5,269.4 L361.4,293.9 L363.2,300.0 L361.8,307.9 L357.9,317.1 L352.6,326.3 L351.3,334.2 L344.7,342.1 L332.9,343.4 L323.7,347.4 L313.2,353.9 L300.0,355.3 L285.7,359.5 L249.0,360.4 L229.0,359.0 L200.0,352.9 L185.3,350.3 L172.1,345.0 L160.3,338.4 L147.1,334.5 L153.7,330.5 L149.7,321.3 L145.8,312.1 L139.9,302.9 L137.0,274.0 L136.0,247.0 L137.5,225.0 L138.0,205.0 L140.0,190.0 L145.0,178.0Z" fill="#18f56c" stroke="#10103a" stroke-opacity="0.75" stroke-width="0.8"/>
<path d="M119.0,160.1 L140.0,161.0 L149.0,163.0 L147.0,170.6 L119.0,170.6Z" fill="#18f56c" stroke="#10103a" stroke-opacity="0.75" stroke-width="0.8"/>
<path d="M362.0,180.0 L371.2,179.4 L377.6,182.6 L379.2,177.8 L387.3,181.0 L389.0,190.7 L395.4,185.9 L403.5,184.2 L411.5,189.0 L422.9,187.5 L435.8,185.9 L445.5,193.9 L455.0,192.3 L465.0,196.0 L480.0,199.0 L500.0,200.0 L521.0,203.0 L540.0,203.0 L560.0,202.0 L570.0,204.0 L570.0,215.0 L568.0,230.0 L575.0,245.0 L584.0,262.0 L575.0,268.0 L560.0,262.0 L550.0,265.0 L531.2,259.2 L517.7,262.6 L504.1,260.9 L500.8,255.8 L483.8,257.5 L467.0,255.8 L455.0,262.0 L452.0,275.0 L455.0,290.0 L455.0,295.2 L446.4,298.5 L439.6,307.0 L431.1,312.1 L426.0,315.5 L429.5,323.9 L427.8,329.0 L436.2,335.8 L436.2,340.8 L419.3,347.6 L405.8,352.7 L388.8,356.1 L372.0,352.7 L363.5,347.6 L361.8,339.1 L362.0,300.0 L362.0,200.0Z" fill="#18f56c" stroke="#10103a" stroke-opacity="0.75" stroke-width="0.8"/>
<path d="M362.0,213.0C363.3,209.5 372.7,215.0 375.0,215.0C377.3,215.0 383.3,213.7 385.0,213.0C386.7,212.3 390.5,208.1 392.0,208.0C393.5,207.9 398.6,210.7 400.0,212.0C401.4,213.3 404.8,220.4 406.0,221.0C407.2,221.6 410.7,218.6 412.0,218.0C413.3,217.4 417.8,214.7 419.0,215.0C420.2,215.3 422.9,221.0 424.0,221.0C425.1,221.0 428.6,215.3 430.0,215.0C431.4,214.7 436.4,217.9 438.0,218.0C439.6,218.1 445.6,214.4 446.4,216.0C447.2,217.6 448.6,231.8 446.4,233.8C444.2,235.8 426.3,235.0 424.0,236.0C421.7,237.0 424.2,242.4 423.7,244.0C423.2,245.6 420.4,250.8 419.0,252.0C417.6,253.2 411.5,255.5 410.0,256.0C408.5,256.5 404.7,255.6 404.0,257.0C403.3,258.4 403.8,267.2 403.4,270.0C403.0,272.8 400.6,285.0 400.0,285.0C399.4,285.0 397.6,272.7 397.0,270.0C396.4,267.3 395.4,259.2 394.3,258.0C393.2,256.8 387.6,257.5 386.0,257.5C384.4,257.5 379.4,257.6 378.0,258.0C376.6,258.4 373.3,261.6 372.0,262.0C370.7,262.4 366.0,263.2 365.0,262.0C364.0,260.8 362.3,254.9 362.0,250.0C361.7,245.1 360.7,216.5 362.0,213.0Z" fill="#00d8ff" stroke="#10103a" stroke-opacity="0.75" stroke-width="0.8"/>
<path d="M365.0,277.0C366.0,274.9 373.2,278.2 375.0,279.0C376.8,279.8 381.7,283.6 383.0,285.0C384.3,286.4 387.3,291.5 388.0,293.0C388.7,294.5 392.3,299.3 390.0,300.0C387.7,300.7 367.5,302.3 365.0,300.0C362.5,297.7 364.0,279.1 365.0,277.0Z" fill="#00d8ff" stroke="#10103a" stroke-opacity="0.75" stroke-width="0.8"/>
<path d="M421.4,265.0C421.4,263.9 423.4,260.0 424.0,260.0C424.6,260.0 427.0,263.9 427.0,265.0C427.0,266.1 424.6,270.5 424.0,270.5C423.4,270.5 421.4,266.1 421.4,265.0Z" fill="#00d8ff" stroke="#10103a" stroke-opacity="0.75" stroke-width="0.8"/>
<path d="M430.5,244.5C430.9,244.2 438.6,244.1 439.5,245.0C440.4,245.9 439.4,253.2 439.0,253.5C438.6,253.8 436.9,248.4 436.0,247.5C435.1,246.6 430.1,244.8 430.5,244.5Z" fill="#00d8ff" stroke="#10103a" stroke-opacity="0.75" stroke-width="0.8"/>
<path d="M418.0,293.0C418.2,292.6 420.4,290.7 421.0,290.8C421.6,290.9 423.9,293.6 423.7,294.0C423.5,294.4 419.6,295.4 419.0,295.3C418.4,295.2 417.8,293.4 418.0,293.0Z" fill="#00d8ff" stroke="#10103a" stroke-opacity="0.75" stroke-width="0.8"/>
<path d="M409.0,273.0C409.1,272.3 411.4,270.3 412.0,270.5C412.6,270.7 414.8,274.3 414.7,275.0C414.6,275.7 411.6,277.4 411.0,277.2C410.4,277.0 408.9,273.7 409.0,273.0Z" fill="#00d8ff" stroke="#10103a" stroke-opacity="0.75" stroke-width="0.8"/>
<path d="M450.0,222.0C452.0,220.5 466.1,224.0 470.0,224.0C473.9,224.0 486.5,221.6 489.0,222.0C491.5,222.4 495.0,226.3 495.0,228.0C495.0,229.7 491.5,238.0 489.0,239.0C486.5,240.0 473.9,238.0 470.0,238.0C466.1,238.0 452.0,240.6 450.0,239.0C448.0,237.4 448.0,223.5 450.0,222.0Z" fill="#00d8ff" stroke="#10103a" stroke-opacity="0.75" stroke-width="0.8"/>
<path d="M446.4,222.0C447.2,219.2 454.1,219.1 455.0,222.0C455.9,224.9 455.8,248.0 455.0,250.8C454.2,253.6 447.9,252.9 447.0,250.0C446.1,247.1 445.6,224.8 446.4,222.0Z" fill="#00d8ff" stroke="#10103a" stroke-opacity="0.75" stroke-width="0.8"/>
<path d="M400.7,295.0C401.7,293.7 410.0,296.1 410.8,298.0C411.6,299.9 410.0,312.5 409.0,313.8C408.0,315.1 401.8,312.9 401.0,311.0C400.2,309.1 399.7,296.3 400.7,295.0Z" fill="#00d8ff" stroke="#10103a" stroke-opacity="0.75" stroke-width="0.8"/>
<path d="M387.0,300.0C387.9,298.0 396.4,299.6 397.3,302.0C398.2,304.4 396.9,322.0 396.0,324.0C395.1,326.0 388.9,324.4 388.0,322.0C387.1,319.6 386.1,302.0 387.0,300.0Z" fill="#00d8ff" stroke="#10103a" stroke-opacity="0.75" stroke-width="0.8"/>
<path d="M365.0,303.6C366.3,302.4 377.5,303.5 378.7,305.0C379.9,306.5 378.3,317.6 377.0,318.8C375.7,320.0 367.2,318.5 366.0,317.0C364.8,315.5 363.7,304.8 365.0,303.6Z" fill="#00d8ff" stroke="#10103a" stroke-opacity="0.75" stroke-width="0.8"/>
<path d="M424.4,302.0C424.9,301.6 429.1,302.3 429.5,303.0C429.9,303.7 428.6,308.3 428.0,308.7C427.4,309.1 424.4,307.7 424.0,307.0C423.6,306.3 423.8,302.4 424.4,302.0Z" fill="#00d8ff" stroke="#10103a" stroke-opacity="0.75" stroke-width="0.8"/>
<path d="M500.0,226.0C500.7,225.0 506.5,226.6 507.0,228.0C507.5,229.4 505.7,239.0 505.0,240.0C504.3,241.0 500.5,239.4 500.0,238.0C499.5,236.6 499.3,227.0 500.0,226.0Z" fill="#00d8ff" stroke="#10103a" stroke-opacity="0.75" stroke-width="0.8"/>
<path d="M492.0,248.0C492.8,247.3 499.3,246.3 500.0,247.0C500.7,247.7 499.8,254.3 499.0,255.0C498.2,255.7 492.7,254.7 492.0,254.0C491.3,253.3 491.2,248.7 492.0,248.0Z" fill="#00d8ff" stroke="#10103a" stroke-opacity="0.75" stroke-width="0.8"/>
<path d="M520.0,226.0C520.8,225.5 527.5,228.0 528.0,229.0C528.5,230.0 525.8,235.5 525.0,236.0C524.2,236.5 520.5,235.0 520.0,234.0C519.5,233.0 519.2,226.5 520.0,226.0Z" fill="#00d8ff" stroke="#10103a" stroke-opacity="0.75" stroke-width="0.8"/>
<path d="M452.0,300.0C452.8,297.4 459.3,294.2 460.0,296.0C460.7,297.8 459.8,315.4 459.0,318.0C458.2,320.6 452.7,323.8 452.0,322.0C451.3,320.2 451.2,302.6 452.0,300.0Z" fill="#00d8ff" stroke="#10103a" stroke-opacity="0.75" stroke-width="0.8"/>
<path d="M364.3,203.4C364.5,200.5 366.3,200.1 367.0,201.0C367.7,201.9 371.0,208.6 371.5,212.0C372.0,215.4 372.0,230.7 372.0,235.0C372.0,239.3 371.9,252.1 371.5,255.0C371.1,257.9 368.6,263.7 368.0,264.0C367.4,264.3 365.8,261.4 365.5,258.0C365.2,254.6 365.1,235.5 365.0,230.0C364.9,224.5 364.1,206.3 364.3,203.4Z" fill="#0204f8" stroke="#10103a" stroke-opacity="0.75" stroke-width="0.8"/>
<path d="M365.0,279.5C366.5,278.6 379.0,282.6 379.7,284.0C380.4,285.4 373.5,292.1 372.0,293.0C370.5,293.9 365.7,294.4 365.0,293.0C364.3,291.6 363.5,280.4 365.0,279.5Z" fill="#0204f8" stroke="#10103a" stroke-opacity="0.75" stroke-width="0.8"/>
<path d="M362.0,285.0C364.4,283.8 383.6,284.3 385.5,285.0C387.4,285.7 382.6,290.6 381.0,292.0C379.4,293.4 371.9,298.0 370.0,298.5C368.1,299.0 362.8,298.4 362.0,297.0C361.2,295.6 359.6,286.2 362.0,285.0Z" fill="#0204f8" stroke="#10103a" stroke-opacity="0.75" stroke-width="0.8"/>
<path d="M362.0,289.0C362.2,288.4 364.8,287.5 365.0,288.0C365.2,288.5 365.2,296.4 365.0,297.0C364.8,297.6 362.2,297.5 362.0,297.0C361.8,296.5 361.8,289.6 362.0,289.0Z" fill="#7c00b8" stroke="#10103a" stroke-opacity="0.75" stroke-width="0.8"/>
<path d="M370.0,180.0C370.6,179.3 377.4,179.2 378.0,180.0C378.6,180.8 377.4,189.0 377.0,190.0C376.6,191.0 373.5,192.6 373.0,192.4C372.5,192.2 370.8,189.0 370.5,188.0C370.2,187.0 369.4,180.7 370.0,180.0Z" fill="#00d8ff" stroke="#10103a" stroke-opacity="0.75" stroke-width="0.8"/>
<path d="M374.0,199.5C374.3,199.0 381.7,199.0 382.0,199.5C382.3,200.0 378.7,206.0 378.0,206.0C377.3,206.0 373.7,200.0 374.0,199.5Z" fill="#00d8ff" stroke="#10103a" stroke-opacity="0.75" stroke-width="0.8"/>
<path d="M389.0,180.0C389.5,178.8 395.5,178.3 396.0,180.0C396.5,181.7 395.7,197.7 395.5,200.0C395.3,202.3 394.5,207.3 394.0,208.0C393.5,208.7 390.4,209.1 390.0,208.0C389.6,206.9 389.6,197.3 389.5,195.0C389.4,192.7 388.5,181.2 389.0,180.0Z" fill="#00d8ff" stroke="#10103a" stroke-opacity="0.75" stroke-width="0.8"/>
<path d="M405.6,193.0C405.9,192.2 409.6,191.6 410.0,192.4C410.4,193.2 410.3,201.8 410.0,202.6C409.7,203.4 406.4,202.8 406.0,202.0C405.6,201.2 405.3,193.8 405.6,193.0Z" fill="#00d8ff" stroke="#10103a" stroke-opacity="0.75" stroke-width="0.8"/>
<path d="M412.4,206.0C412.8,205.1 418.7,205.1 419.2,206.0C419.7,206.9 418.4,216.3 418.0,217.2C417.6,218.1 414.5,217.9 414.0,217.0C413.5,216.1 412.0,206.9 412.4,206.0Z" fill="#00d8ff" stroke="#10103a" stroke-opacity="0.75" stroke-width="0.8"/>
<path d="M428.2,202.6C428.7,201.5 435.5,201.8 436.1,203.0C436.7,204.2 435.5,216.1 435.0,217.2C434.5,218.3 430.6,217.2 430.0,216.0C429.4,214.8 427.7,203.7 428.2,202.6Z" fill="#00d8ff" stroke="#10103a" stroke-opacity="0.75" stroke-width="0.8"/>
<path d="M382.0,223.5C382.7,221.9 389.3,222.2 390.0,224.0C390.7,225.8 389.7,239.4 389.0,241.0C388.3,242.6 383.7,241.8 383.0,240.0C382.3,238.2 381.3,225.1 382.0,223.5Z" fill="#18f56c" stroke="#10103a" stroke-opacity="0.75" stroke-width="0.8"/>
<path d="M394.4,227.4C395.1,226.2 401.6,226.6 402.3,228.0C403.0,229.4 402.2,239.8 401.5,241.0C400.8,242.2 395.7,241.4 395.0,240.0C394.3,238.6 393.7,228.6 394.4,227.4Z" fill="#18f56c" stroke="#10103a" stroke-opacity="0.75" stroke-width="0.8"/>
<path d="M406.0,226.0C406.8,224.0 413.9,224.8 414.7,227.0C415.5,229.2 414.8,246.0 414.0,248.0C413.2,250.0 407.8,249.2 407.0,247.0C406.2,244.8 405.2,228.0 406.0,226.0Z" fill="#18f56c" stroke="#10103a" stroke-opacity="0.75" stroke-width="0.8"/>
<path d="M371.8,242.0C371.8,241.6 373.6,240.0 374.0,240.0C374.4,240.0 376.3,241.6 376.3,242.0C376.3,242.4 374.4,244.5 374.0,244.5C373.6,244.5 371.8,242.4 371.8,242.0Z" fill="#18f56c" stroke="#10103a" stroke-opacity="0.75" stroke-width="0.8"/>
<path d="M370.2,228.7C370.2,228.0 372.9,225.4 373.6,225.4C374.3,225.4 377.0,228.0 377.0,228.7C377.0,229.4 374.3,232.0 373.6,232.0C372.9,232.0 370.2,229.4 370.2,228.7Z" fill="#18f56c" stroke="#10103a" stroke-opacity="0.75" stroke-width="0.8"/>
<path d="M383.0,252.3C383.0,251.8 385.7,250.0 386.4,250.0C387.1,250.0 389.8,251.8 389.8,252.3C389.8,252.8 387.1,254.7 386.4,254.7C385.7,254.7 383.0,252.8 383.0,252.3Z" fill="#18f56c" stroke="#10103a" stroke-opacity="0.75" stroke-width="0.8"/>
<path d="M450.0,267.7C450.9,266.7 459.1,266.8 460.0,268.0C460.9,269.2 459.9,278.5 459.0,279.5C458.1,280.5 451.9,279.2 451.0,278.0C450.1,276.8 449.1,268.7 450.0,267.7Z" fill="#18f56c" stroke="#10103a" stroke-opacity="0.75" stroke-width="0.8"/>
<path d="M458.5,279.5C459.3,278.9 466.2,280.1 467.0,281.0C467.8,281.9 466.8,287.4 466.0,288.0C465.2,288.6 459.8,287.9 459.0,287.0C458.2,286.1 457.7,280.1 458.5,279.5Z" fill="#18f56c" stroke="#10103a" stroke-opacity="0.75" stroke-width="0.8"/>
<path d="M473.7,272.8C474.3,272.2 479.9,273.2 480.5,274.0C481.1,274.8 480.6,280.4 480.0,281.0C479.4,281.6 474.6,280.8 474.0,280.0C473.4,279.2 473.1,273.4 473.7,272.8Z" fill="#18f56c" stroke="#10103a" stroke-opacity="0.75" stroke-width="0.8"/>
<path d="M604.7,155.2C606.3,154.4 620.9,155.0 622.4,156.0C623.9,157.0 621.6,164.1 620.0,164.9C618.4,165.7 607.5,165.0 606.0,164.0C604.5,163.0 603.1,156.0 604.7,155.2Z" fill="#18f56c" stroke="#10103a" stroke-opacity="0.75" stroke-width="0.8"/>
<path d="M603.0,168.1C604.4,167.4 616.3,167.7 617.6,168.5C618.9,169.3 617.4,175.5 616.0,176.2C614.6,176.8 605.3,175.8 604.0,175.0C602.7,174.2 601.6,168.8 603.0,168.1Z" fill="#18f56c" stroke="#10103a" stroke-opacity="0.75" stroke-width="0.8"/>
<path d="M606.3,176.2C607.7,175.0 622.4,175.6 624.0,177.0C625.6,178.4 623.4,189.5 622.0,190.7C620.6,191.9 611.6,190.4 610.0,189.0C608.4,187.6 604.9,177.4 606.3,176.2Z" fill="#18f56c" stroke="#10103a" stroke-opacity="0.75" stroke-width="0.8"/>
<path d="M627.3,176.2C627.8,175.3 632.4,175.2 633.0,176.2C633.6,177.2 633.5,185.0 633.0,185.9C632.5,186.8 628.6,186.0 628.0,185.0C627.4,184.0 626.8,177.1 627.3,176.2Z" fill="#18f56c" stroke="#10103a" stroke-opacity="0.75" stroke-width="0.8"/>
<path d="M585.0,213.5C585.7,212.0 592.3,212.3 593.0,214.0C593.7,215.7 592.7,228.5 592.0,230.0C591.3,231.5 586.7,230.7 586.0,229.0C585.3,227.3 584.3,215.0 585.0,213.5Z" fill="#18f56c" stroke="#10103a" stroke-opacity="0.75" stroke-width="0.8"/>
<path d="M596.0,210.0C596.7,208.5 603.3,209.3 604.0,211.0C604.7,212.7 603.7,225.5 603.0,227.0C602.3,228.5 597.7,227.7 597.0,226.0C596.3,224.3 595.3,211.5 596.0,210.0Z" fill="#18f56c" stroke="#10103a" stroke-opacity="0.75" stroke-width="0.8"/>
<path d="M609.0,217.0C609.6,216.2 615.4,217.0 616.0,218.0C616.6,219.0 615.6,226.2 615.0,227.0C614.4,227.8 610.6,227.0 610.0,226.0C609.4,225.0 608.4,217.8 609.0,217.0Z" fill="#18f56c" stroke="#10103a" stroke-opacity="0.75" stroke-width="0.8"/>
<path d="M613.0,225.0C613.8,224.0 622.1,226.5 623.0,228.0C623.9,229.5 622.8,239.0 622.0,240.0C621.2,241.0 615.9,239.5 615.0,238.0C614.1,236.5 612.2,226.0 613.0,225.0Z" fill="#18f56c" stroke="#10103a" stroke-opacity="0.75" stroke-width="0.8"/>
<path d="M601.0,241.0C601.7,240.1 608.3,240.9 609.0,242.0C609.7,243.1 608.7,251.1 608.0,252.0C607.3,252.9 602.7,252.1 602.0,251.0C601.3,249.9 600.3,241.9 601.0,241.0Z" fill="#18f56c" stroke="#10103a" stroke-opacity="0.75" stroke-width="0.8"/>
<path d="M625.0,222.0C625.7,221.1 632.2,221.0 633.0,222.0C633.8,223.0 633.7,231.1 633.0,232.0C632.3,232.9 626.8,232.0 626.0,231.0C625.2,230.0 624.3,222.9 625.0,222.0Z" fill="#18f56c" stroke="#10103a" stroke-opacity="0.75" stroke-width="0.8"/>
<path d="M624.0,237.0C624.8,236.0 632.1,235.9 633.0,237.0C633.9,238.1 633.8,247.0 633.0,248.0C632.2,249.0 625.9,248.1 625.0,247.0C624.1,245.9 623.2,238.0 624.0,237.0Z" fill="#18f56c" stroke="#10103a" stroke-opacity="0.75" stroke-width="0.8"/>
<path d="M575.0,253.0C575.5,251.6 579.6,251.5 580.0,253.0C580.4,254.5 579.5,266.6 579.0,268.0C578.5,269.4 575.4,268.5 575.0,267.0C574.6,265.5 574.5,254.4 575.0,253.0Z" fill="#18f56c" stroke="#10103a" stroke-opacity="0.75" stroke-width="0.8"/>
<path d="M588.0,259.0C588.4,258.3 591.7,259.1 592.0,260.0C592.3,260.9 591.4,267.3 591.0,268.0C590.6,268.7 588.3,267.9 588.0,267.0C587.7,266.1 587.6,259.7 588.0,259.0Z" fill="#18f56c" stroke="#10103a" stroke-opacity="0.75" stroke-width="0.8"/>
<path d="M551.0,251.0C551.5,249.7 556.5,250.5 557.0,252.0C557.5,253.5 556.5,264.7 556.0,266.0C555.5,267.3 552.5,266.5 552.0,265.0C551.5,263.5 550.5,252.3 551.0,251.0Z" fill="#18f56c" stroke="#10103a" stroke-opacity="0.75" stroke-width="0.8"/>
<path d="M562.0,251.0C562.4,249.7 566.6,250.5 567.0,252.0C567.4,253.5 566.4,264.7 566.0,266.0C565.6,267.3 563.4,266.5 563.0,265.0C562.6,263.5 561.6,252.3 562.0,251.0Z" fill="#18f56c" stroke="#10103a" stroke-opacity="0.75" stroke-width="0.8"/>
<path d="M534.0,254.0C534.5,253.0 539.5,253.8 540.0,255.0C540.5,256.2 539.5,265.0 539.0,266.0C538.5,267.0 535.5,266.2 535.0,265.0C534.5,263.8 533.5,255.0 534.0,254.0Z" fill="#18f56c" stroke="#10103a" stroke-opacity="0.75" stroke-width="0.8"/>
<path d="M572.0,210.0C572.0,209.1 575.0,205.0 575.8,205.0C576.5,205.0 579.5,209.1 579.5,210.0C579.5,210.9 576.5,214.5 575.8,214.5C575.0,214.5 572.0,210.9 572.0,210.0Z" fill="#18f56c" stroke="#10103a" stroke-opacity="0.75" stroke-width="0.8"/>
<path d="M566.8,199.5C566.8,198.9 570.9,196.9 572.0,196.9C573.1,196.9 578.0,198.9 578.0,199.5C578.0,200.1 573.1,202.6 572.0,202.6C570.9,202.6 566.8,200.1 566.8,199.5Z" fill="#18f56c" stroke="#10103a" stroke-opacity="0.75" stroke-width="0.8"/>
<path d="M581.4,202.0C581.4,201.2 584.3,198.0 585.0,198.0C585.7,198.0 588.2,201.2 588.2,202.0C588.2,202.8 585.7,206.0 585.0,206.0C584.3,206.0 581.4,202.8 581.4,202.0Z" fill="#18f56c" stroke="#10103a" stroke-opacity="0.75" stroke-width="0.8"/>
<path d="M358.4,334.0C358.4,333.3 362.5,330.7 363.5,330.7C364.5,330.7 368.5,333.3 368.5,334.0C368.5,334.7 364.5,337.5 363.5,337.5C362.5,337.5 358.4,334.7 358.4,334.0Z" fill="#18f56c" stroke="#10103a" stroke-opacity="0.75" stroke-width="0.8"/>
<path d="M358.0,172.0C358.0,171.5 360.6,169.7 361.3,169.7C362.0,169.7 364.7,171.5 364.7,172.0C364.7,172.5 362.0,174.5 361.3,174.5C360.6,174.5 358.0,172.5 358.0,172.0Z" fill="#18f56c" stroke="#10103a" stroke-opacity="0.75" stroke-width="0.8"/>
<path d="M411.5,179.4C411.5,178.8 414.1,176.2 414.7,176.2C415.3,176.2 418.0,178.8 418.0,179.4C418.0,180.0 415.3,182.6 414.7,182.6C414.1,182.6 411.5,180.0 411.5,179.4Z" fill="#18f56c" stroke="#10103a" stroke-opacity="0.75" stroke-width="0.8"/>
<path d="M422.9,178.5C422.9,177.7 426.2,174.5 427.0,174.5C427.8,174.5 431.0,177.7 431.0,178.5C431.0,179.3 427.8,182.6 427.0,182.6C426.2,182.6 422.9,179.3 422.9,178.5Z" fill="#18f56c" stroke="#10103a" stroke-opacity="0.75" stroke-width="0.8"/>
<path d="M439.0,187.5C439.0,186.8 441.6,184.2 442.2,184.2C442.8,184.2 445.5,186.8 445.5,187.5C445.5,188.2 442.8,190.7 442.2,190.7C441.6,190.7 439.0,188.2 439.0,187.5Z" fill="#18f56c" stroke="#10103a" stroke-opacity="0.75" stroke-width="0.8"/>
<path d="M447.0,171.2C447.0,170.5 450.2,168.0 451.0,168.0C451.8,168.0 455.0,170.5 455.0,171.2C455.0,171.8 451.8,174.5 451.0,174.5C450.2,174.5 447.0,171.8 447.0,171.2Z" fill="#18f56c" stroke="#10103a" stroke-opacity="0.75" stroke-width="0.8"/>
<path d="M427.8,326.0C427.7,325.1 431.0,322.3 432.0,322.2C433.0,322.1 437.8,324.1 437.9,325.0C438.0,325.9 434.0,330.6 433.0,330.7C432.0,330.8 427.9,326.9 427.8,326.0Z" fill="#18f56c" stroke="#10103a" stroke-opacity="0.75" stroke-width="0.8"/>
<path d="M522.5,257.0C523.4,256.2 531.2,256.9 531.7,258.0C532.2,259.1 527.9,267.2 527.0,268.0C526.1,268.8 523.5,267.1 523.0,266.0C522.5,264.9 521.6,257.8 522.5,257.0Z" fill="#18f56c" stroke="#10103a" stroke-opacity="0.75" stroke-width="0.8"/>
<path d="M459.7,182.0C460.1,181.2 465.9,178.0 467.0,177.8C468.1,177.6 471.4,179.2 471.0,180.0C470.6,180.8 464.1,185.7 463.0,185.9C461.9,186.1 459.3,182.8 459.7,182.0Z" fill="#18f56c" stroke="#10103a" stroke-opacity="0.75" stroke-width="0.8"/>
<path d="M452.0,195.0C452.5,193.6 458.1,189.9 459.0,190.0C459.9,190.1 461.5,194.6 461.0,196.0C460.5,197.4 454.9,204.1 454.0,204.0C453.1,203.9 451.5,196.4 452.0,195.0Z" fill="#18f56c" stroke="#10103a" stroke-opacity="0.75" stroke-width="0.8"/>
<path d="M469.0,193.0C469.5,191.5 475.1,188.9 476.0,189.0C476.9,189.1 478.5,192.5 478.0,194.0C477.5,195.5 471.9,204.1 471.0,204.0C470.1,203.9 468.5,194.5 469.0,193.0Z" fill="#18f56c" stroke="#10103a" stroke-opacity="0.75" stroke-width="0.8"/>
<path d="M480.0,198.0C480.4,197.0 487.0,194.0 488.0,194.0C489.0,194.0 490.4,197.0 490.0,198.0C489.6,199.0 485.0,204.0 484.0,204.0C483.0,204.0 479.6,199.0 480.0,198.0Z" fill="#18f56c" stroke="#10103a" stroke-opacity="0.75" stroke-width="0.8"/>
<path d="M563.0,250.0C563.6,248.5 569.5,249.2 570.0,251.0C570.5,252.8 568.6,266.5 568.0,268.0C567.4,269.5 564.5,267.8 564.0,266.0C563.5,264.2 562.4,251.5 563.0,250.0Z" fill="#18f56c" stroke="#10103a" stroke-opacity="0.75" stroke-width="0.8"/>
<path d="M572.0,254.0C572.8,253.0 580.4,253.8 581.0,255.0C581.6,256.2 578.8,265.5 578.0,266.5C577.2,267.5 573.6,266.2 573.0,265.0C572.4,263.8 571.2,255.0 572.0,254.0Z" fill="#18f56c" stroke="#10103a" stroke-opacity="0.75" stroke-width="0.8"/>
<path d="M585.0,259.0C585.4,258.0 589.6,257.9 590.0,259.0C590.4,260.1 589.4,269.0 589.0,270.0C588.6,271.0 586.4,270.1 586.0,269.0C585.6,267.9 584.6,260.0 585.0,259.0Z" fill="#18f56c" stroke="#10103a" stroke-opacity="0.75" stroke-width="0.8"/>
<path d="M598.0,254.0C598.5,253.3 602.7,254.1 603.0,255.0C603.3,255.9 601.5,262.3 601.0,263.0C600.5,263.7 598.3,262.9 598.0,262.0C597.7,261.1 597.5,254.7 598.0,254.0Z" fill="#18f56c" stroke="#10103a" stroke-opacity="0.75" stroke-width="0.8"/>
<path d="M621.6,250.0C622.1,249.3 626.6,250.1 627.0,251.0C627.4,251.9 626.5,258.3 626.0,259.0C625.5,259.7 622.4,258.9 622.0,258.0C621.6,257.1 621.1,250.7 621.6,250.0Z" fill="#18f56c" stroke="#10103a" stroke-opacity="0.75" stroke-width="0.8"/>
<path d="M138.0,143.0C138.0,142.7 143.6,139.0 144.0,139.0C144.4,139.0 150.0,142.7 150.0,143.0C150.0,143.3 144.4,147.0 144.0,147.0C143.6,147.0 138.0,143.3 138.0,143.0Z" fill="#00d8ff" stroke="#10103a" stroke-opacity="0.75" stroke-width="0.8"/>
<path d="M140.0,143.0C140.0,142.8 143.7,140.5 144.0,140.5C144.3,140.5 148.0,142.8 148.0,143.0C148.0,143.2 144.3,145.5 144.0,145.5C143.7,145.5 140.0,143.2 140.0,143.0Z" fill="#18f56c" stroke="#10103a" stroke-opacity="0.75" stroke-width="0.8"/>
<path d="M154.0,142.3C154.0,142.0 160.6,138.0 161.1,138.0C161.6,138.0 168.0,142.0 168.0,142.3C168.0,142.6 161.6,146.5 161.1,146.5C160.6,146.5 154.0,142.6 154.0,142.3Z" fill="#00d8ff" stroke="#10103a" stroke-opacity="0.75" stroke-width="0.8"/>
<path d="M156.0,142.3C156.0,142.1 160.8,139.3 161.1,139.3C161.4,139.3 166.0,142.1 166.0,142.3C166.0,142.5 161.4,145.3 161.1,145.3C160.8,145.3 156.0,142.5 156.0,142.3Z" fill="#18f56c" stroke="#10103a" stroke-opacity="0.75" stroke-width="0.8"/>
<path d="M131.2,150.9 L134.8,146.9 L138.4,150.9 L134.8,154.9Z" fill="#18f56c" stroke="#10103a" stroke-opacity="0.75" stroke-width="0.8"/>
<path d="M126.9,180.0C126.8,179.6 131.2,177.2 132.0,177.2C132.8,177.2 138.6,179.1 138.7,179.5C138.8,179.9 133.8,182.5 133.0,182.5C132.2,182.5 127.0,180.4 126.9,180.0Z" fill="#18f56c" stroke="#10103a" stroke-opacity="0.75" stroke-width="0.8"/>
<path d="M120.3,194.0C120.2,193.0 125.3,187.9 126.0,188.0C126.7,188.1 130.7,195.0 130.8,196.0C130.9,197.0 127.7,203.8 127.0,203.7C126.3,203.6 120.4,195.0 120.3,194.0Z" fill="#18f56c" stroke="#10103a" stroke-opacity="0.75" stroke-width="0.8"/>
<path d="M124.0,192.0C124.0,191.7 126.6,190.0 127.0,190.0C127.4,190.0 129.5,192.2 129.5,192.5C129.5,192.8 127.4,195.0 127.0,195.0C126.6,195.0 124.0,192.3 124.0,192.0Z" fill="#58fc08" stroke="#10103a" stroke-opacity="0.75" stroke-width="0.8"/>
<path d="M129.5,275.0C129.5,274.3 131.0,269.7 131.2,269.7C131.4,269.7 132.8,274.3 132.8,275.0C132.8,275.7 131.4,280.3 131.2,280.3C131.0,280.3 129.5,275.7 129.5,275.0Z" fill="#18f56c" stroke="#10103a" stroke-opacity="0.75" stroke-width="0.8"/>
<path d="M119.0,250.0 L121.0,250.0 L121.0,270.0 L119.0,270.0Z" fill="#18f56c" stroke="#10103a" stroke-opacity="0.75" stroke-width="0.8"/>
<path d="M119.0,213.0C119.1,212.7 122.7,212.8 123.0,213.0C123.3,213.2 127.0,217.2 127.0,217.5C127.0,217.8 123.3,221.8 123.0,222.0C122.7,222.2 119.1,222.3 119.0,222.0C118.9,221.7 118.9,213.3 119.0,213.0Z" fill="#18f56c" stroke="#10103a" stroke-opacity="0.75" stroke-width="0.8"/>
<path d="M118.5,313.4C118.5,312.7 122.1,308.5 123.0,308.1C123.9,307.7 131.1,307.7 132.0,308.1C132.9,308.5 136.5,312.7 136.5,313.4C136.5,314.1 132.9,318.3 132.0,318.7C131.1,319.1 123.9,319.1 123.0,318.7C122.1,318.3 118.5,314.1 118.5,313.4Z" fill="#00d8ff" stroke="#10103a" stroke-opacity="0.75" stroke-width="0.8"/>
<path d="M121.0,313.4C121.0,312.9 123.6,309.9 124.2,309.6C124.9,309.3 130.1,309.3 130.8,309.6C131.4,309.9 134.0,312.9 134.0,313.4C134.0,313.9 131.4,316.9 130.8,317.2C130.1,317.5 124.9,317.5 124.2,317.2C123.6,316.9 121.0,313.9 121.0,313.4Z" fill="#18f56c" stroke="#10103a" stroke-opacity="0.75" stroke-width="0.8"/>
<path d="M121.3,325.6C121.3,324.9 123.3,321.0 123.8,320.7C124.3,320.4 128.3,320.4 128.8,320.7C129.3,321.0 131.3,324.9 131.3,325.6C131.3,326.3 129.3,330.2 128.8,330.5C128.3,330.8 124.3,330.8 123.8,330.5C123.3,330.2 121.3,326.3 121.3,325.6Z" fill="#00d8ff" stroke="#10103a" stroke-opacity="0.75" stroke-width="0.8"/>
<path d="M124.3,325.6C124.3,325.3 125.1,323.7 125.3,323.6C125.5,323.5 127.1,323.5 127.3,323.6C127.5,323.7 128.3,325.3 128.3,325.6C128.3,325.9 127.5,327.5 127.3,327.6C127.1,327.7 125.5,327.7 125.3,327.6C125.1,327.5 124.3,325.9 124.3,325.6Z" fill="#0204f8" stroke="#10103a" stroke-opacity="0.75" stroke-width="0.8"/>
<path d="M135.5,351.3C135.5,350.8 138.1,347.6 138.8,347.3C139.4,347.0 144.6,347.0 145.2,347.3C145.9,347.6 148.5,350.8 148.5,351.3C148.5,351.8 145.9,355.0 145.2,355.3C144.6,355.6 139.4,355.6 138.8,355.3C138.1,355.0 135.5,351.8 135.5,351.3Z" fill="#00d8ff" stroke="#10103a" stroke-opacity="0.75" stroke-width="0.8"/>
<path d="M137.2,351.3C137.2,350.9 139.1,348.7 139.6,348.5C140.1,348.3 143.9,348.3 144.4,348.5C144.9,348.7 146.8,350.9 146.8,351.3C146.8,351.7 144.9,353.9 144.4,354.1C143.9,354.3 140.1,354.3 139.6,354.1C139.1,353.9 137.2,351.7 137.2,351.3Z" fill="#18f56c" stroke="#10103a" stroke-opacity="0.75" stroke-width="0.8"/>
<path d="M335.5,351.3C335.5,350.9 341.3,347.4 342.0,347.4C342.7,347.4 348.7,350.9 348.7,351.3C348.7,351.7 342.7,355.3 342.0,355.3C341.3,355.3 335.5,351.7 335.5,351.3Z" fill="#00d8ff" stroke="#10103a" stroke-opacity="0.75" stroke-width="0.8"/>
<path d="M338.0,351.3C338.0,351.1 341.6,349.0 342.0,349.0C342.4,349.0 346.0,351.1 346.0,351.3C346.0,351.5 342.4,353.6 342.0,353.6C341.6,353.6 338.0,351.5 338.0,351.3Z" fill="#18f56c" stroke="#10103a" stroke-opacity="0.75" stroke-width="0.8"/>
<path d="M150.0,185.8 L154.5,179.0 L162.4,168.8 L172.6,159.8 L179.3,154.7 L192.9,149.7 L201.9,146.8 L213.3,143.3 L233.2,141.3 L253.2,140.0 L273.1,141.3 L293.0,142.0 L313.9,142.9 L328.5,145.8 L335.8,151.6 L346.1,158.2 L349.0,170.0 L352.0,199.2 L356.0,230.0 L357.7,245.0 L356.5,269.4 L354.1,291.4 L355.3,300.0 L355.3,305.3 L350.0,318.4 L339.5,323.7 L343.4,336.8 L339.5,339.5 L326.3,342.1 L313.2,347.4 L300.0,351.3 L273.4,354.0 L249.0,353.5 L211.9,347.5 L189.2,342.4 L176.0,335.8 L169.4,335.0 L163.8,324.5 L160.0,317.9 L154.4,309.4 L150.6,301.9 L145.0,301.0 L143.4,280.0 L142.2,245.0 L144.0,205.0Z" fill="#58fc08" stroke="#10103a" stroke-opacity="0.75" stroke-width="0.8"/>
<path d="M374.4,147.0C375.0,145.9 381.8,139.8 385.7,139.0C389.6,138.2 411.1,137.9 413.2,139.0C415.3,140.1 408.8,148.4 407.0,150.0C405.2,151.6 397.7,155.2 395.0,155.2C392.3,155.2 382.1,150.8 380.0,150.0C377.9,149.2 373.8,148.1 374.4,147.0Z" fill="#58fc08" stroke="#10103a" stroke-opacity="0.75" stroke-width="0.8"/>
<path d="M403.5,152.0C404.5,151.3 413.1,149.7 415.0,150.3C416.9,150.9 422.6,156.9 422.9,158.0C423.2,159.1 419.8,161.7 418.0,161.6C416.2,161.5 406.4,158.0 405.0,157.0C403.6,156.0 402.5,152.7 403.5,152.0Z" fill="#58fc08" stroke="#10103a" stroke-opacity="0.75" stroke-width="0.8"/>
<path d="M422.9,161.0C423.4,160.4 429.0,159.4 430.0,160.0C431.0,160.6 433.0,165.9 432.5,166.5C432.0,167.1 426.0,166.6 425.0,166.0C424.0,165.4 422.4,161.6 422.9,161.0Z" fill="#58fc08" stroke="#10103a" stroke-opacity="0.75" stroke-width="0.8"/>
<path d="M432.5,166.0C433.0,165.4 439.0,164.5 440.0,165.0C441.0,165.5 442.7,170.7 442.2,171.3C441.7,171.9 436.0,171.5 435.0,171.0C434.0,170.5 432.0,166.6 432.5,166.0Z" fill="#58fc08" stroke="#10103a" stroke-opacity="0.75" stroke-width="0.8"/>
<path d="M343.0,147.0C343.0,146.3 345.6,143.9 347.0,143.6C348.4,143.3 355.6,143.3 357.0,143.6C358.4,143.9 360.7,146.3 360.7,147.0C360.7,147.7 358.4,149.9 357.0,150.2C355.6,150.5 348.4,150.5 347.0,150.2C345.6,149.9 343.0,147.7 343.0,147.0Z" fill="#58fc08" stroke="#10103a" stroke-opacity="0.75" stroke-width="0.8"/>
<path d="M375.3,147.0C375.3,146.4 377.4,144.3 378.0,144.3C378.6,144.3 381.0,146.4 381.0,147.0C381.0,147.6 378.6,150.2 378.0,150.2C377.4,150.2 375.3,147.6 375.3,147.0Z" fill="#58fc08" stroke="#10103a" stroke-opacity="0.75" stroke-width="0.8"/>
<path d="M474.0,202.0C475.0,200.9 480.7,200.8 482.0,201.4C483.3,202.0 486.9,205.4 487.2,208.0C487.5,210.6 486.1,225.3 485.0,227.0C483.9,228.7 477.3,226.5 476.0,225.0C474.7,223.5 472.2,214.3 472.0,212.0C471.8,209.7 473.0,203.1 474.0,202.0Z" fill="#58fc08" stroke="#10103a" stroke-opacity="0.75" stroke-width="0.8"/>
<path d="M445.0,207.0C446.0,206.1 453.0,205.6 455.0,206.0C457.0,206.4 464.5,209.8 465.3,211.0C466.1,212.2 464.5,217.8 463.0,218.4C461.5,219.0 451.8,217.3 450.0,217.0C448.2,216.7 445.5,216.0 445.0,215.0C444.5,214.0 444.0,207.9 445.0,207.0Z" fill="#58fc08" stroke="#10103a" stroke-opacity="0.75" stroke-width="0.8"/>
<path d="M490.6,206.8C492.1,206.0 505.6,208.3 509.2,208.5C512.8,208.7 523.2,208.0 526.1,208.5C529.0,209.0 535.6,213.3 538.0,213.5C540.4,213.7 547.8,210.8 550.0,210.2C552.2,209.6 558.5,207.8 560.0,208.0C561.5,208.2 564.8,209.8 565.0,212.0C565.2,214.2 562.9,226.4 562.0,230.0C561.1,233.6 557.2,245.1 556.0,248.0C554.8,250.9 552.1,257.4 550.0,259.0C547.9,260.6 537.1,264.3 534.6,264.3C532.1,264.3 526.9,259.5 524.5,259.2C522.1,258.9 513.1,261.4 510.9,260.9C508.7,260.4 502.7,255.3 502.5,254.1C502.3,252.9 508.9,250.3 509.2,249.0C509.5,247.7 505.8,242.1 505.8,240.6C505.8,239.1 509.4,235.3 509.2,233.8C509.0,232.3 505.6,227.1 504.1,225.4C502.6,223.7 495.4,218.9 494.0,217.0C492.6,215.1 489.1,207.7 490.6,206.8Z" fill="#58fc08" stroke="#10103a" stroke-opacity="0.75" stroke-width="0.8"/>
<path d="M475.4,235.5C476.3,234.5 484.6,234.8 485.5,236.0C486.4,237.2 484.9,246.4 484.0,247.4C483.1,248.4 476.9,247.2 476.0,246.0C475.1,244.8 474.4,236.5 475.4,235.5Z" fill="#58fc08" stroke="#10103a" stroke-opacity="0.75" stroke-width="0.8"/>
<path d="M385.5,342.0C386.5,340.8 397.5,337.3 400.0,337.5C402.5,337.7 410.3,342.6 410.8,344.0C411.3,345.4 407.1,350.4 405.0,351.0C402.9,351.6 391.9,350.9 390.0,350.0C388.1,349.1 384.5,343.2 385.5,342.0Z" fill="#58fc08" stroke="#10103a" stroke-opacity="0.75" stroke-width="0.8"/>
<path d="M410.8,333.0C411.3,332.2 418.6,331.9 420.0,332.4C421.4,332.9 424.9,337.2 424.4,338.0C423.9,338.8 416.4,341.3 415.0,340.8C413.6,340.3 410.3,333.8 410.8,333.0Z" fill="#58fc08" stroke="#10103a" stroke-opacity="0.75" stroke-width="0.8"/>
<path d="M426.0,340.0C426.5,339.3 433.6,338.8 435.0,339.1C436.4,339.4 440.1,342.3 439.6,343.0C439.1,343.7 431.4,346.2 430.0,345.9C428.6,345.6 425.5,340.7 426.0,340.0Z" fill="#58fc08" stroke="#10103a" stroke-opacity="0.75" stroke-width="0.8"/>
<path d="M615.0,248.0C615.8,247.0 624.0,244.3 625.0,245.0C626.0,245.7 625.8,254.0 625.0,255.0C624.2,256.0 618.0,255.7 617.0,255.0C616.0,254.3 614.2,249.0 615.0,248.0Z" fill="#58fc08" stroke="#10103a" stroke-opacity="0.75" stroke-width="0.8"/>
<path d="M573.5,210.0C573.5,209.6 575.5,207.0 575.8,207.0C576.1,207.0 578.0,209.6 578.0,210.0C578.0,210.4 576.1,213.0 575.8,213.0C575.5,213.0 573.5,210.4 573.5,210.0Z" fill="#58fc08" stroke="#10103a" stroke-opacity="0.75" stroke-width="0.8"/>
<path d="M586.0,222.0C586.0,221.1 589.0,215.0 589.5,215.0C590.0,215.0 593.0,221.1 593.0,222.0C593.0,222.9 590.0,229.0 589.5,229.0C589.0,229.0 586.0,222.9 586.0,222.0Z" fill="#58fc08" stroke="#10103a" stroke-opacity="0.75" stroke-width="0.8"/>
<path d="M598.0,218.0C598.0,217.4 600.3,213.5 600.6,213.5C600.9,213.5 603.0,217.4 603.0,218.0C603.0,218.6 600.9,223.0 600.6,223.0C600.3,223.0 598.0,218.6 598.0,218.0Z" fill="#58fc08" stroke="#10103a" stroke-opacity="0.75" stroke-width="0.8"/>
<path d="M522.0,218.6C523.1,217.8 533.0,218.1 534.0,219.0C535.0,219.9 533.1,227.2 532.0,228.0C530.9,228.8 524.0,227.9 523.0,227.0C522.0,226.1 520.9,219.4 522.0,218.6Z" fill="#18f56c" stroke="#10103a" stroke-opacity="0.75" stroke-width="0.8"/>
<path d="M531.0,232.0C531.8,231.0 539.2,231.8 540.0,233.0C540.8,234.2 539.8,243.0 539.0,244.0C538.2,245.0 532.8,244.2 532.0,243.0C531.2,241.8 530.2,233.0 531.0,232.0Z" fill="#18f56c" stroke="#10103a" stroke-opacity="0.75" stroke-width="0.8"/>
<path d="M518.0,243.0C518.7,242.2 524.4,242.1 525.0,243.0C525.6,243.9 524.7,251.2 524.0,252.0C523.3,252.8 518.6,251.9 518.0,251.0C517.4,250.1 517.3,243.8 518.0,243.0Z" fill="#18f56c" stroke="#10103a" stroke-opacity="0.75" stroke-width="0.8"/>
<path d="M226.6,152.6 L240.0,149.3 L243.9,151.9 L259.8,149.3 L284.6,146.5 L300.0,153.2 L313.2,157.1 L322.4,163.7 L329.0,170.3 L334.2,179.5 L338.2,190.0 L340.8,199.2 L342.1,210.0 L344.5,217.7 L347.5,250.0 L347.0,257.2 L344.3,274.3 L339.4,293.9 L340.8,300.0 L339.5,306.6 L332.9,313.2 L326.3,319.7 L329.0,327.6 L339.5,335.5 L331.6,330.3 L326.3,331.6 L313.2,334.2 L300.0,338.5 L273.4,346.0 L249.0,345.5 L221.6,341.0 L200.0,329.2 L189.2,326.6 L185.4,325.4 L177.9,320.7 L171.3,315.1 L170.4,310.4 L161.9,302.9 L158.2,292.5 L154.4,285.0 L153.2,264.6 L149.5,245.0 L153.2,220.6 L155.7,203.5 L157.9,195.0 L164.7,184.6 L172.6,176.7 L182.7,168.8 L186.1,164.3 L195.1,162.1 L206.4,159.2 L210.6,154.6Z" fill="#ffeb00" stroke="#10103a" stroke-opacity="0.75" stroke-width="0.8"/>
<path d="M385.7,147.0C387.3,146.3 402.3,142.0 403.5,142.2C404.7,142.4 399.6,148.0 398.0,148.7C396.4,149.4 388.2,149.2 387.0,149.0C385.8,148.8 384.1,147.7 385.7,147.0Z" fill="#ffeb00" stroke="#10103a" stroke-opacity="0.75" stroke-width="0.8"/>
<path d="M443.0,210.0C443.1,209.5 446.2,207.9 447.0,208.0C447.8,208.1 451.1,210.5 451.0,211.0C450.9,211.5 446.8,213.1 446.0,213.0C445.2,212.9 442.9,210.5 443.0,210.0Z" fill="#ffeb00" stroke="#10103a" stroke-opacity="0.75" stroke-width="0.8"/>
<path d="M541.4,241.0C541.4,239.8 542.6,235.0 543.0,235.0C543.4,235.0 545.0,239.8 545.0,241.0C545.0,242.2 543.4,247.0 543.0,247.0C542.6,247.0 541.4,242.2 541.4,241.0Z" fill="#ffeb00" stroke="#10103a" stroke-opacity="0.75" stroke-width="0.8"/>
<path d="M449.0,211.0C449.1,210.5 452.7,208.7 453.0,209.0C453.3,209.3 452.4,213.8 452.0,214.0C451.6,214.2 448.9,211.5 449.0,211.0Z" fill="#ffeb00" stroke="#10103a" stroke-opacity="0.75" stroke-width="0.8"/>
<path d="M240.0,166.5 L249.0,164.0 L269.6,164.0 L286.7,167.7 L300.0,172.9 L306.6,175.5 L315.8,184.7 L321.0,195.3 L325.0,210.0 L328.5,222.6 L331.0,245.0 L330.0,257.2 L324.8,274.3 L317.4,293.9 L321.0,300.0 L315.8,306.6 L306.6,313.2 L300.0,319.7 L293.0,324.0 L273.4,330.5 L249.0,330.5 L241.2,329.5 L224.1,323.2 L207.0,316.0 L200.0,314.7 L195.0,310.4 L191.1,308.5 L189.2,301.9 L184.5,296.3 L177.0,292.5 L172.3,285.0 L170.3,274.3 L163.5,259.7 L162.2,247.0 L165.5,235.0 L166.7,225.5 L170.3,210.9 L178.2,195.0 L183.8,185.8 L192.9,176.7 L200.7,172.8 L210.0,171.7 L221.6,168.1Z" fill="#ff2600" stroke="#10103a" stroke-opacity="0.75" stroke-width="0.8"/>
<path d="M221.1,192.5 L224.1,188.0 L230.0,186.0 L254.2,182.6 L264.7,181.1 L279.3,184.8 L289.1,193.3 L296.4,205.5 L302.5,222.6 L306.0,239.0 L307.7,245.0 L306.4,259.7 L300.3,279.2 L290.5,296.3 L278.3,306.1 L263.7,311.0 L249.0,310.0 L236.3,309.0 L224.1,304.9 L211.9,296.3 L199.6,284.1 L192.3,271.9 L189.9,259.7 L188.5,252.0 L192.6,239.0 L198.6,224.0 L209.1,203.0 L216.0,196.0Z" fill="#ff9c9c" stroke="#10103a" stroke-opacity="0.75" stroke-width="0.8"/>
<ellipse cx="268" cy="248" rx="2.2" ry="4" fill="#ffffff" transform="rotate(-35 268 248)" stroke="#10103a" stroke-opacity="0.75" stroke-width="0.8"/>
<path d="M133.39,375 V371.20 M133.39,118 V121.80 M147.78,375 V371.20 M147.78,118 V121.80 M162.18,375 V371.20 M162.18,118 V121.80 M176.57,375 V371.20 M176.57,118 V121.80 M190.96,375 V367.50 M190.96,118 V125.50 M205.35,375 V371.20 M205.35,118 V121.80 M219.75,375 V371.20 M219.75,118 V121.80 M234.14,375 V371.20 M234.14,118 V121.80 M248.53,375 V371.20 M248.53,118 V121.80 M262.92,375 V367.50 M262.92,118 V125.50 M277.32,375 V371.20 M277.32,118 V121.80 M291.71,375 V371.20 M291.71,118 V121.80 M306.10,375 V371.20 M306.10,118 V121.80 M320.50,375 V371.20 M320.50,118 V121.80 M334.89,375 V367.50 M334.89,118 V125.50 M349.28,375 V371.20 M349.28,118 V121.80 M363.67,375 V371.20 M363.67,118 V121.80 M378.06,375 V371.20 M378.06,118 V121.80 M392.46,375 V371.20 M392.46,118 V121.80 M406.85,375 V367.50 M406.85,118 V125.50 M421.24,375 V371.20 M421.24,118 V121.80 M435.63,375 V371.20 M435.63,118 V121.80 M450.03,375 V371.20 M450.03,118 V121.80 M464.42,375 V371.20 M464.42,118 V121.80 M478.81,375 V367.50 M478.81,118 V125.50 M493.20,375 V371.20 M493.20,118 V121.80 M507.60,375 V371.20 M507.60,118 V121.80 M521.99,375 V371.20 M521.99,118 V121.80 M536.38,375 V371.20 M536.38,118 V121.80 M550.77,375 V367.50 M550.77,118 V125.50 M565.17,375 V371.20 M565.17,118 V121.80 M579.56,375 V371.20 M579.56,118 V121.80 M593.95,375 V371.20 M593.95,118 V121.80 M608.35,375 V371.20 M608.35,118 V121.80 M622.74,375 V367.50 M622.74,118 V125.50 M119,364.32 H122.80 M633,364.32 H629.20 M119,349.69 H122.80 M633,349.69 H629.20 M119,335.06 H122.80 M633,335.06 H629.20 M119,320.44 H126.50 M633,320.44 H625.50 M119,305.81 H122.80 M633,305.81 H629.20 M119,291.18 H122.80 M633,291.18 H629.20 M119,276.55 H122.80 M633,276.55 H629.20 M119,261.93 H122.80 M633,261.93 H629.20 M119,247.30 H126.50 M633,247.30 H625.50 M119,232.67 H122.80 M633,232.67 H629.20 M119,218.05 H122.80 M633,218.05 H629.20 M119,203.42 H122.80 M633,203.42 H629.20 M119,188.79 H122.80 M633,188.79 H629.20 M119,174.17 H126.50 M633,174.17 H625.50 M119,159.54 H122.80 M633,159.54 H629.20 M119,144.91 H122.80 M633,144.91 H629.20 M119,130.28 H122.80 M633,130.28 H629.20" stroke="#000040" stroke-opacity="0.8" stroke-width="1" fill="none"/>
<rect x="119" y="118" width="514" height="257" fill="url(#grid)"/>
</g>
<rect x="118.7" y="118.3" width="514.6" height="257" fill="none" stroke="#333" stroke-width="0.6"/>
<g class="tx"><g transform="translate(306.60 82.70) scale(12.7422 12.6000)" fill="none" stroke="#505050" stroke-width="1.1" stroke-linecap="round" stroke-linejoin="round" vector-effect="non-scaling-stroke"><path transform="translate(0.000 0)" d="M0,-1 V0.42 M0,-0.5 A0.4,0.5 0 1 0 0.8,-0.5 A0.4,0.5 0 1 0 0,-0.5"/><path transform="translate(1.120 0)" d="M0,-1 V0 M0,-0.52 Q0.06,-1 0.45,-1"/><path transform="translate(1.890 0)" d="M0.02,-0.5 H0.82 A0.41,0.5 0 1 0 0.74,-0.18"/><path transform="translate(3.030 0)" d="M0.76,-0.80 A0.42,0.5 0 1 0 0.76,-0.20"/><path transform="translate(4.110 0)" d="M0,-1 V0 M0,-1.3 l0.001,0"/><path transform="translate(4.430 0)" d="M0,-1 V0.42 M0,-0.5 A0.4,0.5 0 1 0 0.8,-0.5 A0.4,0.5 0 1 0 0,-0.5"/><path transform="translate(5.550 0)" d="M0,-1 V0 M0,-1.3 l0.001,0"/><path transform="translate(5.870 0)" d="M0.18,-1.33 V-0.14 Q0.18,0 0.42,0 M0,-1 H0.55"/><path transform="translate(6.740 0)" d="M0.78,-1 V0 M0,-0.5 A0.39,0.5 0 1 0 0.78,-0.5 A0.39,0.5 0 1 0 0,-0.5"/><path transform="translate(7.840 0)" d="M0.18,-1.33 V-0.14 Q0.18,0 0.42,0 M0,-1 H0.55"/><path transform="translate(8.710 0)" d="M0,-1 V0 M0,-1.3 l0.001,0"/><path transform="translate(9.030 0)" d="M0,-0.5 A0.425,0.5 0 1 0 0.85,-0.5 A0.425,0.5 0 1 0 0,-0.5"/><path transform="translate(10.200 0)" d="M0,-1 V0 M0,-0.62 A0.37,0.38 0 0 1 0.74,-0.62 V0"/></g>
<g transform="translate(94.10 178.60) scale(7.5893 7.6500)" fill="none" stroke="#505050" stroke-width="1" stroke-linecap="round" stroke-linejoin="round" vector-effect="non-scaling-stroke"><path transform="translate(0.000 0)" d="M0.88,-1.36 H0.16 L0.08,-0.74 Q0.28,-0.86 0.50,-0.86 Q0.95,-0.86 0.95,-0.43 Q0.95,0 0.48,0 Q0.15,0 0,-0.18"/><path transform="translate(1.270 0)" d="M0,-0.68 A0.485,0.68 0 1 0 0.97,-0.68 A0.485,0.68 0 1 0 0,-0.68"/></g>
<g transform="translate(103.10 251.70) scale(7.8351 7.8000)" fill="none" stroke="#505050" stroke-width="1" stroke-linecap="round" stroke-linejoin="round" vector-effect="non-scaling-stroke"><path transform="translate(0.000 0)" d="M0,-0.68 A0.485,0.68 0 1 0 0.97,-0.68 A0.485,0.68 0 1 0 0,-0.68"/></g>
<g transform="translate(82.40 325.30) scale(8.5044 7.4000)" fill="none" stroke="#505050" stroke-width="1" stroke-linecap="round" stroke-linejoin="round" vector-effect="non-scaling-stroke"><path transform="translate(0.000 0)" d="M0,-0.66 H0.85"/><path transform="translate(1.170 0)" d="M0.88,-1.36 H0.16 L0.08,-0.74 Q0.28,-0.86 0.50,-0.86 Q0.95,-0.86 0.95,-0.43 Q0.95,0 0.48,0 Q0.15,0 0,-0.18"/><path transform="translate(2.440 0)" d="M0,-0.68 A0.485,0.68 0 1 0 0.97,-0.68 A0.485,0.68 0 1 0 0,-0.68"/></g>
<g transform="translate(70.60 279.70) rotate(-90) scale(10.2006 9.7000)" fill="none" stroke="#505050" stroke-width="1" stroke-linecap="round" stroke-linejoin="round" vector-effect="non-scaling-stroke"><path transform="translate(0.000 0)" d="M0,-1.36 V0"/><path transform="translate(0.320 0)" d="M0.78,-1 V0 M0,-0.5 A0.39,0.5 0 1 0 0.78,-0.5 A0.39,0.5 0 1 0 0,-0.5"/><path transform="translate(1.420 0)" d="M0.18,-1.33 V-0.14 Q0.18,0 0.42,0 M0,-1 H0.55"/><path transform="translate(2.290 0)" d="M0,-1 V0 M0,-1.3 l0.001,0"/><path transform="translate(2.610 0)" d="M0.18,-1.33 V-0.14 Q0.18,0 0.42,0 M0,-1 H0.55"/><path transform="translate(3.480 0)" d="M0,-1 V-0.38 A0.37,0.38 0 0 0 0.74,-0.38 M0.74,-1 V0"/><path transform="translate(4.540 0)" d="M0.80,-1.36 V0 M0,-0.5 A0.4,0.5 0 1 0 0.8,-0.5 A0.4,0.5 0 1 0 0,-0.5"/><path transform="translate(5.660 0)" d="M0.02,-0.5 H0.82 A0.41,0.5 0 1 0 0.74,-0.18"/></g>
<g transform="translate(47.70 402.30) scale(7.8222 7.6000)" fill="none" stroke="#505050" stroke-width="1" stroke-linecap="round" stroke-linejoin="round" vector-effect="non-scaling-stroke"><path transform="translate(0.000 0)" d="M0.30,-1.45 Q-0.08,-0.52 0.30,0.42"/><path transform="translate(0.620 0)" d="M0.80,-1.36 V0 M0,-0.5 A0.4,0.5 0 1 0 0.8,-0.5 A0.4,0.5 0 1 0 0,-0.5"/><path transform="translate(1.740 0)" d="M0.02,-0.5 H0.82 A0.41,0.5 0 1 0 0.74,-0.18"/><path transform="translate(2.880 0)" d="M0.80,-1 V0.05 Q0.80,0.42 0.40,0.42 Q0.15,0.42 0.04,0.30 M0,-0.5 A0.4,0.5 0 1 0 0.8,-0.5 A0.4,0.5 0 1 0 0,-0.5"/><path transform="translate(4.000 0)" d="M0,-1 V0 M0,-0.52 Q0.06,-1 0.45,-1"/><path transform="translate(4.770 0)" d="M0.02,-0.5 H0.82 A0.41,0.5 0 1 0 0.74,-0.18"/><path transform="translate(5.910 0)" d="M0.02,-0.5 H0.82 A0.41,0.5 0 1 0 0.74,-0.18"/><path transform="translate(7.050 0)" d="M0,0.28 H0.90"/><path transform="translate(8.270 0)" d="M0,-1 V0 M0,-0.62 A0.37,0.38 0 0 1 0.74,-0.62 V0"/><path transform="translate(9.330 0)" d="M0,-0.5 A0.425,0.5 0 1 0 0.85,-0.5 A0.425,0.5 0 1 0 0,-0.5"/><path transform="translate(10.500 0)" d="M0,-1 V0 M0,-0.52 Q0.06,-1 0.45,-1"/><path transform="translate(11.270 0)" d="M0.18,-1.33 V-0.14 Q0.18,0 0.42,0 M0,-1 H0.55"/><path transform="translate(12.140 0)" d="M0,-1.36 V0 M0,-0.62 A0.37,0.38 0 0 1 0.74,-0.62 V0"/><path transform="translate(13.200 0)" d="M0,-1.45 Q0.38,-0.52 0,0.42"/></g>
<g transform="translate(549.60 410.90) scale(7.8368 7.6000)" fill="none" stroke="#505050" stroke-width="1" stroke-linecap="round" stroke-linejoin="round" vector-effect="non-scaling-stroke"><path transform="translate(0.000 0)" d="M0.30,-1.45 Q-0.08,-0.52 0.30,0.42"/><path transform="translate(0.620 0)" d="M0.80,-1.36 V0 M0,-0.5 A0.4,0.5 0 1 0 0.8,-0.5 A0.4,0.5 0 1 0 0,-0.5"/><path transform="translate(1.740 0)" d="M0.02,-0.5 H0.82 A0.41,0.5 0 1 0 0.74,-0.18"/><path transform="translate(2.880 0)" d="M0.80,-1 V0.05 Q0.80,0.42 0.40,0.42 Q0.15,0.42 0.04,0.30 M0,-0.5 A0.4,0.5 0 1 0 0.8,-0.5 A0.4,0.5 0 1 0 0,-0.5"/><path transform="translate(4.000 0)" d="M0,-1 V0 M0,-0.52 Q0.06,-1 0.45,-1"/><path transform="translate(4.770 0)" d="M0.02,-0.5 H0.82 A0.41,0.5 0 1 0 0.74,-0.18"/><path transform="translate(5.910 0)" d="M0.02,-0.5 H0.82 A0.41,0.5 0 1 0 0.74,-0.18"/><path transform="translate(7.050 0)" d="M0,0.28 H0.90"/><path transform="translate(8.270 0)" d="M0.02,-0.5 H0.82 A0.41,0.5 0 1 0 0.74,-0.18"/><path transform="translate(9.410 0)" d="M0.78,-1 V0 M0,-0.5 A0.39,0.5 0 1 0 0.78,-0.5 A0.39,0.5 0 1 0 0,-0.5"/><path transform="translate(10.510 0)" d="M0.60,-0.86 Q0.48,-1 0.30,-1 Q0.02,-1 0.02,-0.76 Q0.02,-0.54 0.31,-0.5 Q0.62,-0.46 0.62,-0.25 Q0.62,0 0.31,0 Q0.10,0 0,-0.16"/><path transform="translate(11.450 0)" d="M0.18,-1.33 V-0.14 Q0.18,0 0.42,0 M0,-1 H0.55"/><path transform="translate(12.320 0)" d="M0,-1.45 Q0.38,-0.52 0,0.42"/></g>
<g transform="translate(334.60 435.20) scale(10.5216 9.8000)" fill="none" stroke="#505050" stroke-width="1" stroke-linecap="round" stroke-linejoin="round" vector-effect="non-scaling-stroke"><path transform="translate(0.000 0)" d="M0,-1.36 V0"/><path transform="translate(0.320 0)" d="M0,-0.5 A0.425,0.5 0 1 0 0.85,-0.5 A0.425,0.5 0 1 0 0,-0.5"/><path transform="translate(1.490 0)" d="M0,-1 V0 M0,-0.62 A0.37,0.38 0 0 1 0.74,-0.62 V0"/><path transform="translate(2.550 0)" d="M0.80,-1 V0.05 Q0.80,0.42 0.40,0.42 Q0.15,0.42 0.04,0.30 M0,-0.5 A0.4,0.5 0 1 0 0.8,-0.5 A0.4,0.5 0 1 0 0,-0.5"/><path transform="translate(3.670 0)" d="M0,-1 V0 M0,-1.3 l0.001,0"/><path transform="translate(3.990 0)" d="M0.18,-1.33 V-0.14 Q0.18,0 0.42,0 M0,-1 H0.55"/><path transform="translate(4.860 0)" d="M0,-1 V-0.38 A0.37,0.38 0 0 0 0.74,-0.38 M0.74,-1 V0"/><path transform="translate(5.920 0)" d="M0.80,-1.36 V0 M0,-0.5 A0.4,0.5 0 1 0 0.8,-0.5 A0.4,0.5 0 1 0 0,-0.5"/><path transform="translate(7.040 0)" d="M0.02,-0.5 H0.82 A0.41,0.5 0 1 0 0.74,-0.18"/></g>
<g transform="translate(115.00 392.90) scale(8.2474 7.7000)" fill="none" stroke="#505050" stroke-width="1" stroke-linecap="round" stroke-linejoin="round" vector-effect="non-scaling-stroke"><path transform="translate(0.000 0)" d="M0,-0.68 A0.485,0.68 0 1 0 0.97,-0.68 A0.485,0.68 0 1 0 0,-0.68"/></g>
<g transform="translate(182.50 392.90) scale(7.5893 7.7000)" fill="none" stroke="#505050" stroke-width="1" stroke-linecap="round" stroke-linejoin="round" vector-effect="non-scaling-stroke"><path transform="translate(0.000 0)" d="M0.88,-1.36 H0.16 L0.08,-0.74 Q0.28,-0.86 0.50,-0.86 Q0.95,-0.86 0.95,-0.43 Q0.95,0 0.48,0 Q0.15,0 0,-0.18"/><path transform="translate(1.270 0)" d="M0,-0.68 A0.485,0.68 0 1 0 0.97,-0.68 A0.485,0.68 0 1 0 0,-0.68"/></g>
<g transform="translate(251.55 392.90) scale(8.0528 7.7000)" fill="none" stroke="#505050" stroke-width="1" stroke-linecap="round" stroke-linejoin="round" vector-effect="non-scaling-stroke"><path transform="translate(0.000 0)" d="M0.05,-1.08 L0.45,-1.36 V0"/><path transform="translate(0.770 0)" d="M0,-0.68 A0.485,0.68 0 1 0 0.97,-0.68 A0.485,0.68 0 1 0 0,-0.68"/><path transform="translate(2.060 0)" d="M0,-0.68 A0.485,0.68 0 1 0 0.97,-0.68 A0.485,0.68 0 1 0 0,-0.68"/></g>
<g transform="translate(323.40 392.90) scale(8.1063 7.7000)" fill="none" stroke="#505050" stroke-width="1" stroke-linecap="round" stroke-linejoin="round" vector-effect="non-scaling-stroke"><path transform="translate(0.000 0)" d="M0.05,-1.08 L0.45,-1.36 V0"/><path transform="translate(0.770 0)" d="M0.88,-1.36 H0.16 L0.08,-0.74 Q0.28,-0.86 0.50,-0.86 Q0.95,-0.86 0.95,-0.43 Q0.95,0 0.48,0 Q0.15,0 0,-0.18"/><path transform="translate(2.040 0)" d="M0,-0.68 A0.485,0.68 0 1 0 0.97,-0.68 A0.485,0.68 0 1 0 0,-0.68"/></g>
<g transform="translate(395.30 392.90) scale(6.9122 7.7000)" fill="none" stroke="#505050" stroke-width="1" stroke-linecap="round" stroke-linejoin="round" vector-effect="non-scaling-stroke"><path transform="translate(0.000 0)" d="M0.06,-1.04 Q0.14,-1.36 0.48,-1.36 Q0.90,-1.36 0.90,-1.0 Q0.90,-0.78 0.55,-0.48 L0,0 H0.95"/><path transform="translate(1.270 0)" d="M0,-0.68 A0.485,0.68 0 1 0 0.97,-0.68 A0.485,0.68 0 1 0 0,-0.68"/><path transform="translate(2.560 0)" d="M0,-0.68 A0.485,0.68 0 1 0 0.97,-0.68 A0.485,0.68 0 1 0 0,-0.68"/></g>
<g transform="translate(467.20 392.90) scale(6.9516 7.7000)" fill="none" stroke="#505050" stroke-width="1" stroke-linecap="round" stroke-linejoin="round" vector-effect="non-scaling-stroke"><path transform="translate(0.000 0)" d="M0.06,-1.04 Q0.14,-1.36 0.48,-1.36 Q0.90,-1.36 0.90,-1.0 Q0.90,-0.78 0.55,-0.48 L0,0 H0.95"/><path transform="translate(1.270 0)" d="M0.88,-1.36 H0.16 L0.08,-0.74 Q0.28,-0.86 0.50,-0.86 Q0.95,-0.86 0.95,-0.43 Q0.95,0 0.48,0 Q0.15,0 0,-0.18"/><path transform="translate(2.540 0)" d="M0,-0.68 A0.485,0.68 0 1 0 0.97,-0.68 A0.485,0.68 0 1 0 0,-0.68"/></g>
<g transform="translate(539.10 392.90) scale(6.9122 7.7000)" fill="none" stroke="#505050" stroke-width="1" stroke-linecap="round" stroke-linejoin="round" vector-effect="non-scaling-stroke"><path transform="translate(0.000 0)" d="M0.05,-1.15 Q0.20,-1.36 0.48,-1.36 Q0.88,-1.36 0.88,-1.03 Q0.88,-0.72 0.42,-0.72 Q0.95,-0.72 0.95,-0.36 Q0.95,0 0.48,0 Q0.15,0 0,-0.2"/><path transform="translate(1.270 0)" d="M0,-0.68 A0.485,0.68 0 1 0 0.97,-0.68 A0.485,0.68 0 1 0 0,-0.68"/><path transform="translate(2.560 0)" d="M0,-0.68 A0.485,0.68 0 1 0 0.97,-0.68 A0.485,0.68 0 1 0 0,-0.68"/></g>
<g transform="translate(610.30 392.90) scale(6.9516 7.7000)" fill="none" stroke="#505050" stroke-width="1" stroke-linecap="round" stroke-linejoin="round" vector-effect="non-scaling-stroke"><path transform="translate(0.000 0)" d="M0.05,-1.15 Q0.20,-1.36 0.48,-1.36 Q0.88,-1.36 0.88,-1.03 Q0.88,-0.72 0.42,-0.72 Q0.95,-0.72 0.95,-0.36 Q0.95,0 0.48,0 Q0.15,0 0,-0.2"/><path transform="translate(1.270 0)" d="M0.88,-1.36 H0.16 L0.08,-0.74 Q0.28,-0.86 0.50,-0.86 Q0.95,-0.86 0.95,-0.43 Q0.95,0 0.48,0 Q0.15,0 0,-0.18"/><path transform="translate(2.540 0)" d="M0,-0.68 A0.485,0.68 0 1 0 0.97,-0.68 A0.485,0.68 0 1 0 0,-0.68"/></g>
<g transform="translate(470.60 479.80) scale(7.8272 6.8500)" fill="none" stroke="#505050" stroke-width="1" stroke-linecap="round" stroke-linejoin="round" vector-effect="non-scaling-stroke"><path transform="translate(0.000 0)" d="M0.05,-1.08 L0.45,-1.36 V0"/><path transform="translate(0.770 0)" d="M0.02,-0.5 H0.82 A0.41,0.5 0 1 0 0.74,-0.18"/><path transform="translate(1.910 0)" d="M0,-0.66 H0.85"/><path transform="translate(3.080 0)" d="M0.74,0 V-1.36 L0,-0.40 H0.97"/></g>
<g transform="translate(247.40 479.40) scale(7.0747 6.7000)" fill="none" stroke="#505050" stroke-width="1" stroke-linecap="round" stroke-linejoin="round" vector-effect="non-scaling-stroke"><path transform="translate(0.000 0)" d="M0.05,-1.08 L0.45,-1.36 V0"/><path transform="translate(0.770 0)" d="M0.02,-0.5 H0.82 A0.41,0.5 0 1 0 0.74,-0.18"/><path transform="translate(1.910 0)" d="M0,-0.66 H0.85"/><path transform="translate(3.080 0)" d="M0.05,-1.08 L0.45,-1.36 V0"/><path transform="translate(3.850 0)" d="M0,-0.68 A0.485,0.68 0 1 0 0.97,-0.68 A0.485,0.68 0 1 0 0,-0.68"/></g>
<g transform="translate(251.40 479.40) scale(7.1667 6.7000)" fill="none" stroke="#505050" stroke-width="1" stroke-linecap="round" stroke-linejoin="round" vector-effect="non-scaling-stroke"><path transform="translate(0.000 0)" d="M0.05,-1.08 L0.45,-1.36 V0"/><path transform="translate(0.770 0)" d="M0.02,-0.5 H0.82 A0.41,0.5 0 1 0 0.74,-0.18"/><path transform="translate(1.910 0)" d="M0,-0.66 H0.85"/><path transform="translate(3.080 0)" d="M0.05,-1.08 L0.45,-1.36 V0"/><path transform="translate(3.850 0)" d="M0,-0.45 A0.475,0.45 0 1 0 0.95,-0.45 A0.475,0.45 0 1 0 0,-0.45 M0.02,-0.50 Q0.05,-1.36 0.58,-1.36 Q0.80,-1.36 0.90,-1.18"/></g>
<g transform="translate(523.40 493.60) scale(7.5445 7.5000)" fill="none" stroke="#505050" stroke-width="1" stroke-linecap="round" stroke-linejoin="round" vector-effect="non-scaling-stroke"><path transform="translate(0.000 0)" d="M0.18,-1.33 V-0.14 Q0.18,0 0.42,0 M0,-1 H0.55"/><path transform="translate(0.870 0)" d="M0,-1 V0 M0,-1.3 l0.001,0"/><path transform="translate(1.190 0)" d="M0,-1 V0 M0,-0.65 A0.30,0.35 0 0 1 0.60,-0.65 V0 M0.60,-0.65 A0.30,0.35 0 0 1 1.20,-0.65 V0"/><path transform="translate(2.710 0)" d="M0.02,-0.5 H0.82 A0.41,0.5 0 1 0 0.74,-0.18"/><path transform="translate(3.850 0)" d="M0,-0.42 H0.85 M0,-0.82 H0.85"/><path transform="translate(5.020 0)" d="M0.05,-1.08 L0.45,-1.36 V0"/><path transform="translate(5.790 0)" d="M0,-0.68 A0.485,0.68 0 1 0 0.97,-0.68 A0.485,0.68 0 1 0 0,-0.68"/><path transform="translate(7.080 0)" d="M0.085,-1.04 A0.4,0.32 0 1 0 0.885,-1.04 A0.4,0.32 0 1 0 0.085,-1.04 M0,-0.38 A0.485,0.38 0 1 0 0.97,-0.38 A0.485,0.38 0 1 0 0,-0.38"/><path transform="translate(8.370 0)" d="M0,-1.36 H0.95 L0.32,0"/><path transform="translate(9.640 0)" d="M0.01,-0.02 l0.001,0"/><path transform="translate(9.980 0)" d="M0.06,-1.04 Q0.14,-1.36 0.48,-1.36 Q0.90,-1.36 0.90,-1.0 Q0.90,-0.78 0.55,-0.48 L0,0 H0.95"/><path transform="translate(11.250 0)" d="M0.88,-1.36 H0.16 L0.08,-0.74 Q0.28,-0.86 0.50,-0.86 Q0.95,-0.86 0.95,-0.43 Q0.95,0 0.48,0 Q0.15,0 0,-0.18"/><path transform="translate(13.290 0)" d="M0.80,-1.36 V0 M0,-0.5 A0.4,0.5 0 1 0 0.8,-0.5 A0.4,0.5 0 1 0 0,-0.5"/><path transform="translate(14.410 0)" d="M0.78,-1 V0 M0,-0.5 A0.39,0.5 0 1 0 0.78,-0.5 A0.39,0.5 0 1 0 0,-0.5"/><path transform="translate(15.510 0)" d="M0,-1 L0.39,0 M0.78,-1 L0.28,0.42"/></g>
<g transform="translate(29.30 529.50) scale(4.5733 4.5000)" fill="none" stroke="#555" stroke-width="0.7" stroke-linecap="round" stroke-linejoin="round" vector-effect="non-scaling-stroke"><path transform="translate(0.000 0)" d="M0,0.1 L0.62,-1.36"/><path transform="translate(0.940 0)" d="M0,-1 V-0.38 A0.37,0.38 0 0 0 0.74,-0.38 M0.74,-1 V0"/><path transform="translate(2.000 0)" d="M0.60,-0.86 Q0.48,-1 0.30,-1 Q0.02,-1 0.02,-0.76 Q0.02,-0.54 0.31,-0.5 Q0.62,-0.46 0.62,-0.25 Q0.62,0 0.31,0 Q0.10,0 0,-0.16"/><path transform="translate(2.940 0)" d="M0,-1 V0 M0,-0.52 Q0.06,-1 0.45,-1"/><path transform="translate(3.710 0)" d="M0,0.1 L0.62,-1.36"/><path transform="translate(4.650 0)" d="M0,-1.36 V0 M0,-0.5 A0.4,0.5 0 1 0 0.8,-0.5 A0.4,0.5 0 1 0 0,-0.5"/><path transform="translate(5.770 0)" d="M0,-1 V0 M0,-1.3 l0.001,0"/><path transform="translate(6.090 0)" d="M0,-1 V0 M0,-0.62 A0.37,0.38 0 0 1 0.74,-0.62 V0"/><path transform="translate(7.150 0)" d="M0,0.1 L0.62,-1.36"/><path transform="translate(8.090 0)" d="M0.80,-1 V0.05 Q0.80,0.42 0.40,0.42 Q0.15,0.42 0.04,0.30 M0,-0.5 A0.4,0.5 0 1 0 0.8,-0.5 A0.4,0.5 0 1 0 0,-0.5"/><path transform="translate(9.210 0)" d="M0,-1 V0.42 M0,-0.5 A0.4,0.5 0 1 0 0.8,-0.5 A0.4,0.5 0 1 0 0,-0.5"/><path transform="translate(10.330 0)" d="M0,-1 L0.39,0 L0.78,-1"/><path transform="translate(11.430 0)" d="M0,-1 V0 M0,-1.3 l0.001,0"/><path transform="translate(11.750 0)" d="M0.02,-0.5 H0.82 A0.41,0.5 0 1 0 0.74,-0.18"/><path transform="translate(12.890 0)" d="M0,-1 L0.27,0 L0.55,-0.85 L0.83,0 L1.10,-1"/><path transform="translate(15.850 0)" d="M0.06,-1.04 Q0.14,-1.36 0.48,-1.36 Q0.90,-1.36 0.90,-1.0 Q0.90,-0.78 0.55,-0.48 L0,0 H0.95"/><path transform="translate(17.120 0)" d="M0,-0.68 A0.485,0.68 0 1 0 0.97,-0.68 A0.485,0.68 0 1 0 0,-0.68"/><path transform="translate(18.410 0)" d="M0.05,-1.08 L0.45,-1.36 V0"/><path transform="translate(19.180 0)" d="M0.88,-1.36 H0.16 L0.08,-0.74 Q0.28,-0.86 0.50,-0.86 Q0.95,-0.86 0.95,-0.43 Q0.95,0 0.48,0 Q0.15,0 0,-0.18"/><path transform="translate(20.450 0)" d="M0,-0.66 H0.85"/><path transform="translate(21.620 0)" d="M0,-0.68 A0.485,0.68 0 1 0 0.97,-0.68 A0.485,0.68 0 1 0 0,-0.68"/><path transform="translate(22.910 0)" d="M0.05,-1.08 L0.45,-1.36 V0"/><path transform="translate(23.680 0)" d="M0,-0.66 H0.85"/><path transform="translate(24.850 0)" d="M0.06,-1.04 Q0.14,-1.36 0.48,-1.36 Q0.90,-1.36 0.90,-1.0 Q0.90,-0.78 0.55,-0.48 L0,0 H0.95"/><path transform="translate(26.120 0)" d="M0,-1.36 H0.95 L0.32,0"/></g>
<g transform="translate(597.40 528.80) scale(4.4609 4.3000)" fill="none" stroke="#555" stroke-width="0.7" stroke-linecap="round" stroke-linejoin="round" vector-effect="non-scaling-stroke"><path transform="translate(0.000 0)" d="M0,0 V-1.36 H0.48 Q0.85,-1.36 0.85,-1.01 Q0.85,-0.66 0.48,-0.66 H0"/><path transform="translate(1.170 0)" d="M0,0 V-1.36 H0.48 Q0.85,-1.36 0.85,-1.01 Q0.85,-0.66 0.48,-0.66 H0 M0.48,-0.66 L0.88,0"/><path transform="translate(2.370 0)" d="M0.98,-1.08 A0.52,0.68 0 1 0 0.98,-0.28"/><path transform="translate(3.690 0)" d="M0,0 V-1.36 H0.48 Q0.85,-1.36 0.85,-1.01 Q0.85,-0.66 0.48,-0.66 H0"/><path transform="translate(4.860 0)" d="M0.01,-0.02 l0.001,0"/><path transform="translate(5.200 0)" d="M0,-1 V0 M0,-0.62 A0.37,0.38 0 0 1 0.74,-0.62 V0"/><path transform="translate(6.260 0)" d="M0.76,-0.80 A0.42,0.5 0 1 0 0.76,-0.20"/><path transform="translate(7.340 0)" d="M0,-0.62 A0.6,0.62 0 1 0 1.2,-0.62 A0.6,0.62 0 1 0 0,-0.62 M0.33,-0.55 A0.25,0.3 0 1 0 0.83,-0.55 A0.25,0.3 0 1 0 0.33,-0.55"/><path transform="translate(8.860 0)" d="M0,0 V-1.36 H0.48 Q0.85,-1.36 0.85,-1.01 Q0.85,-0.66 0.48,-0.66 H0"/><path transform="translate(10.030 0)" d="M0,0 V-1.36 H0.48 Q0.85,-1.36 0.85,-1.01 Q0.85,-0.66 0.48,-0.66 H0 M0.48,-0.66 L0.88,0"/><path transform="translate(11.230 0)" d="M0.98,-1.08 A0.52,0.68 0 1 0 0.98,-0.28"/><path transform="translate(12.550 0)" d="M0,0 V-1.36 H0.48 Q0.85,-1.36 0.85,-1.01 Q0.85,-0.66 0.48,-0.66 H0"/><path transform="translate(13.720 0)" d="M0.10,-0.06 L0,0.22"/><path transform="translate(14.140 0)" d="M0.18,-1.33 V-0.14 Q0.18,0 0.42,0 M0,-1 H0.55"/><path transform="translate(15.010 0)" d="M0,-1 V0 M0,-1.3 l0.001,0"/><path transform="translate(15.330 0)" d="M0,-1 V0 M0,-0.65 A0.30,0.35 0 0 1 0.60,-0.65 V0 M0.60,-0.65 A0.30,0.35 0 0 1 1.20,-0.65 V0"/><path transform="translate(16.850 0)" d="M0.02,-0.5 H0.82 A0.41,0.5 0 1 0 0.74,-0.18"/><path transform="translate(17.990 0)" d="M0,-0.42 H0.85 M0,-0.82 H0.85"/><path transform="translate(19.160 0)" d="M0.05,-1.08 L0.45,-1.36 V0"/><path transform="translate(19.930 0)" d="M0,-0.68 A0.485,0.68 0 1 0 0.97,-0.68 A0.485,0.68 0 1 0 0,-0.68"/><path transform="translate(21.220 0)" d="M0,-0.45 A0.475,0.45 0 1 0 0.95,-0.45 A0.475,0.45 0 1 0 0,-0.45 M0.02,-0.50 Q0.05,-1.36 0.58,-1.36 Q0.80,-1.36 0.90,-1.18"/><path transform="translate(22.490 0)" d="M0.88,-1.36 H0.16 L0.08,-0.74 Q0.28,-0.86 0.50,-0.86 Q0.95,-0.86 0.95,-0.43 Q0.95,0 0.48,0 Q0.15,0 0,-0.18"/><path transform="translate(23.760 0)" d="M0.01,-0.95 l0.001,0 M0.01,-0.02 l0.001,0"/><path transform="translate(24.100 0)" d="M0.05,-1.08 L0.45,-1.36 V0"/><path transform="translate(24.870 0)" d="M0,-0.68 A0.485,0.68 0 1 0 0.97,-0.68 A0.485,0.68 0 1 0 0,-0.68"/><path transform="translate(26.160 0)" d="M0.015,-0.91 A0.46,0.45 0 1 0 0.935,-0.91 A0.46,0.45 0 1 0 0.015,-0.91 M0.93,-0.86 Q0.90,0 0.38,0 Q0.16,0 0.06,-0.16"/><path transform="translate(27.430 0)" d="M0.88,-1.36 H0.16 L0.08,-0.74 Q0.28,-0.86 0.50,-0.86 Q0.95,-0.86 0.95,-0.43 Q0.95,0 0.48,0 Q0.15,0 0,-0.18"/></g></g>
<g id="cbar">
<rect x="265.5" y="449.3" width="221" height="15" fill="#ff9a9a"/>
<rect x="267.5" y="449.3" width="21" height="15" fill="#ff2400"/>
<rect x="265.2" y="449.3" width="2" height="15" fill="#111"/>
<rect x="267.2" y="449.3" width="0.8" height="15" fill="#9a9a20"/>
<rect x="270.5" y="449.5" width="0.9" height="14.6" fill="#fff" fill-opacity="0.22"/><rect x="275.2" y="449.5" width="0.9" height="14.6" fill="#fff" fill-opacity="0.22"/><rect x="280.3" y="449.5" width="0.9" height="14.6" fill="#fff" fill-opacity="0.22"/><rect x="284.6" y="449.5" width="0.9" height="14.6" fill="#fff" fill-opacity="0.22"/><rect x="293.2" y="449.5" width="0.9" height="14.6" fill="#fff" fill-opacity="0.22"/><rect x="297.5" y="449.5" width="0.9" height="14.6" fill="#fff" fill-opacity="0.22"/><rect x="303.1" y="449.5" width="0.9" height="14.6" fill="#fff" fill-opacity="0.22"/><rect x="309.4" y="449.5" width="0.9" height="14.6" fill="#fff" fill-opacity="0.22"/><rect x="318.6" y="449.5" width="0.9" height="14.6" fill="#fff" fill-opacity="0.22"/><rect x="326.8" y="449.5" width="0.9" height="14.6" fill="#fff" fill-opacity="0.22"/><rect x="331.5" y="449.5" width="0.9" height="14.6" fill="#fff" fill-opacity="0.22"/><rect x="340.2" y="449.5" width="0.9" height="14.6" fill="#fff" fill-opacity="0.22"/><rect x="348.9" y="449.5" width="0.9" height="14.6" fill="#fff" fill-opacity="0.22"/><rect x="356.3" y="449.5" width="0.9" height="14.6" fill="#fff" fill-opacity="0.22"/><rect x="363.2" y="449.5" width="0.9" height="14.6" fill="#fff" fill-opacity="0.22"/><rect x="369.7" y="449.5" width="0.9" height="14.6" fill="#fff" fill-opacity="0.22"/><rect x="377.6" y="449.5" width="0.9" height="14.6" fill="#fff" fill-opacity="0.22"/><rect x="383.5" y="449.5" width="0.9" height="14.6" fill="#fff" fill-opacity="0.22"/><rect x="390.8" y="449.5" width="0.9" height="14.6" fill="#fff" fill-opacity="0.22"/><rect x="398.9" y="449.5" width="0.9" height="14.6" fill="#fff" fill-opacity="0.22"/><rect x="404.4" y="449.5" width="0.9" height="14.6" fill="#fff" fill-opacity="0.22"/><rect x="412.1" y="449.5" width="0.9" height="14.6" fill="#fff" fill-opacity="0.22"/><rect x="419.6" y="449.5" width="0.9" height="14.6" fill="#fff" fill-opacity="0.22"/><rect x="425.8" y="449.5" width="0.9" height="14.6" fill="#fff" fill-opacity="0.22"/><rect x="433.7" y="449.5" width="0.9" height="14.6" fill="#fff" fill-opacity="0.22"/><rect x="440.2" y="449.5" width="0.9" height="14.6" fill="#fff" fill-opacity="0.22"/><rect x="447.3" y="449.5" width="0.9" height="14.6" fill="#fff" fill-opacity="0.22"/><rect x="455.1" y="449.5" width="0.9" height="14.6" fill="#fff" fill-opacity="0.22"/><rect x="461.6" y="449.5" width="0.9" height="14.6" fill="#fff" fill-opacity="0.22"/><rect x="468.2" y="449.5" width="0.9" height="14.6" fill="#fff" fill-opacity="0.22"/><rect x="474.9" y="449.5" width="0.9" height="14.6" fill="#fff" fill-opacity="0.22"/><rect x="480.3" y="449.5" width="0.9" height="14.6" fill="#fff" fill-opacity="0.22"/><rect x="265.5" y="449.3" width="221" height="15" fill="none" stroke="#222" stroke-width="1"/>
</g>
</svg>
</body></html>
